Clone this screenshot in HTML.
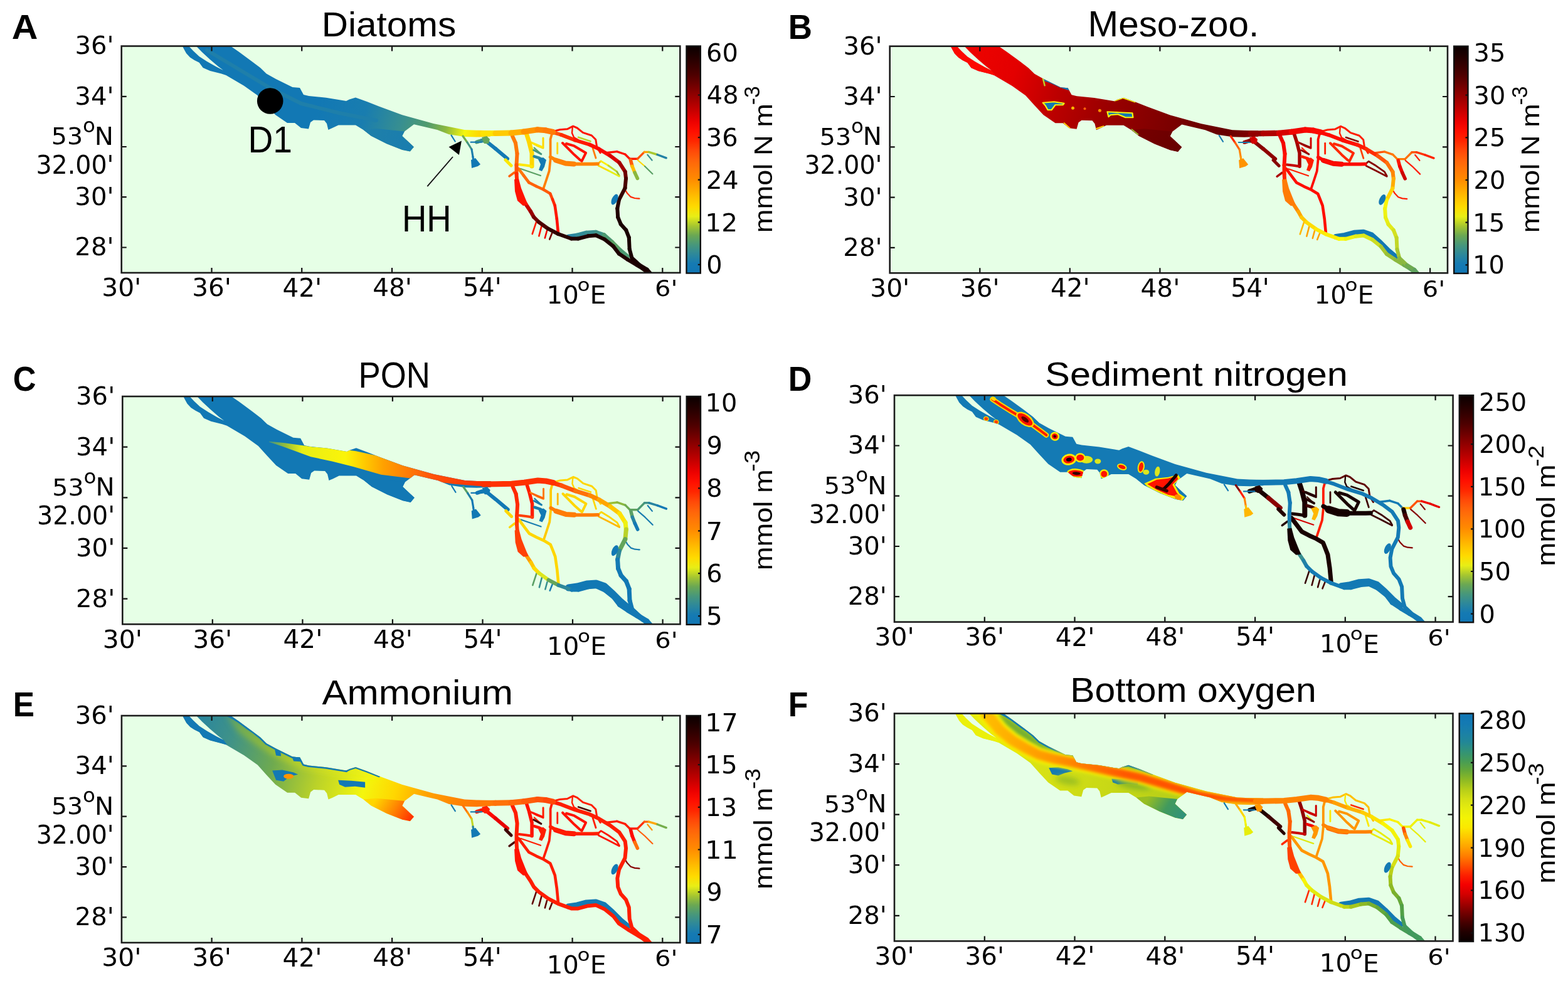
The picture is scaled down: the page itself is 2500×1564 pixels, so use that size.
<!DOCTYPE html>
<html><head><meta charset="utf-8"><title>Figure</title><style>html,body{margin:0;padding:0;background:#fff;}svg{display:block;}</style></head><body>
<svg xmlns="http://www.w3.org/2000/svg" width="2500" height="1564" viewBox="0 0 2500 1564">
<defs><filter id="blr" x="-20%" y="-20%" width="140%" height="140%"><feGaussianBlur stdDeviation="5"/></filter><filter id="blr2" x="-20%" y="-20%" width="140%" height="140%"><feGaussianBlur stdDeviation="2.5"/></filter></defs>
<rect width="2500" height="1564" fill="#fff"/>
<clipPath id="cpA"><rect x="193.7" y="73.5" width="890.6" height="361.4"/></clipPath>
<rect x="193.7" y="73.5" width="890.6" height="361.4" fill="#e6ffe6"/>
<g clip-path="url(#cpA)"><g transform="matrix(1.00000 0 0 1.00000 0.000 0.000)">
<clipPath id="ecA"><polygon points="291,73.5 367.6,73.5 380,82 401,97.4 415,108 424.8,117.6 440,126 466.4,139 478,140 484,151 492.4,152.9 520,155.7 552,161 557,158.5 566.9,155.4 585,162 604,169.6 641.3,183.3 691,197 740.6,206.9 760,207.8 782,208.2 782,217.5 760,218.5 740.6,218 715.8,214.3 697.2,206.9 660,198.2 645,209.4 641.3,216.8 660,234.2 653.8,241.6 641.3,239 616.5,229.2 591.7,216.8 579.3,206.9 567,199.4 539.6,199.4 530,204 523.4,206.9 521,197 517,192 500,191.4 495,195 492,205.6 480,204 470,196 458,196 439,183 425,168 410.5,152 389,136.7 360.5,120 353,117.6 335,113 323.6,108 317.6,99.8 310,96 303,91.4 297,85 292.6,77"/></clipPath>
<linearGradient id="gaA" gradientUnits="userSpaceOnUse" x1="300" y1="74" x2="782" y2="212"><stop offset="0.0000" stop-color="#1278b4"/><stop offset="0.4500" stop-color="#1278b4"/><stop offset="0.6000" stop-color="#197daf"/><stop offset="0.7200" stop-color="#388f90"/><stop offset="0.8000" stop-color="#509b6e"/><stop offset="0.8600" stop-color="#8bb83f"/><stop offset="0.9200" stop-color="#f4f60e"/><stop offset="0.9700" stop-color="#ffd600"/><stop offset="1.0000" stop-color="#ffc400"/></linearGradient>
<polygon points="291,73.5 367.6,73.5 380,82 401,97.4 415,108 424.8,117.6 440,126 466.4,139 478,140 484,151 492.4,152.9 520,155.7 552,161 557,158.5 566.9,155.4 585,162 604,169.6 641.3,183.3 691,197 740.6,206.9 760,207.8 782,208.2 782,217.5 760,218.5 740.6,218 715.8,214.3 697.2,206.9 660,198.2 645,209.4 641.3,216.8 660,234.2 653.8,241.6 641.3,239 616.5,229.2 591.7,216.8 579.3,206.9 567,199.4 539.6,199.4 530,204 523.4,206.9 521,197 517,192 500,191.4 495,195 492,205.6 480,204 470,196 458,196 439,183 425,168 410.5,152 389,136.7 360.5,120 353,117.6 335,113 323.6,108 317.6,99.8 310,96 303,91.4 297,85 292.6,77" fill="url(#gaA)"/>
<g clip-path="url(#ecA)">
<linearGradient id="glA" gradientUnits="userSpaceOnUse" x1="600" y1="205" x2="655" y2="240"><stop offset="0.0000" stop-color="#1e7faa"/><stop offset="1.0000" stop-color="#197daf"/></linearGradient>
<polygon points="600,205 645,209.4 641.3,216.8 660,234.2 653.8,241.6 641.3,239 616.5,229.2 591.7,216.8 579.3,206.9" fill="url(#glA)"/>
<polyline points="330,80 380,110 430,140 480,165 540,180 600,192" fill="none" stroke="#1e7faa" stroke-width="6" stroke-linejoin="round" stroke-linecap="round"/>
</g>
<polygon points="301,73.5 312.8,73.5 322,83 335,95 348,106 356,112 345,106.5 330,98 317.6,90 308,81" fill="#e6ffe6"/>
<g fill="none" stroke-linecap="round" stroke-linejoin="round">
<line x1="906" y1="377" x2="920" y2="375" stroke="#2784a1" stroke-width="6.5"/>
<line x1="920" y1="375" x2="935" y2="371" stroke="#318b97" stroke-width="6.5"/>
<line x1="935" y1="371" x2="950" y2="370" stroke="#388f90" stroke-width="6.5"/>
<line x1="950" y1="370" x2="963" y2="374.5" stroke="#3f9288" stroke-width="6.5"/>
<line x1="963" y1="374.5" x2="976" y2="386" stroke="#4d9a72" stroke-width="6.5"/>
<line x1="976" y1="386" x2="989" y2="399" stroke="#5aa064" stroke-width="6.5"/>
<line x1="989" y1="399" x2="1001" y2="409" stroke="#4d9a72" stroke-width="6.5"/>
<line x1="760" y1="226.5" x2="768" y2="224" stroke="#4d9a72" stroke-width="6"/>
<line x1="768" y1="224" x2="775" y2="225" stroke="#388f90" stroke-width="6"/>
<line x1="775" y1="225" x2="790" y2="237" stroke="#147ab4" stroke-width="6"/>
<line x1="790" y1="237" x2="809" y2="253" stroke="#1379b4" stroke-width="6"/>
<polyline points="719.5,215.6 725.7,225.5" stroke="#147ab4" stroke-width="2.2"/>
<line x1="738" y1="217" x2="745" y2="227" stroke="#75ae4c" stroke-width="3.2"/>
<line x1="745" y1="227" x2="752" y2="238" stroke="#429483" stroke-width="3.2"/>
<line x1="752" y1="238" x2="754" y2="250" stroke="#1c7eac" stroke-width="3.2"/>
<line x1="754" y1="250" x2="755" y2="258" stroke="#1278b4" stroke-width="3.2"/>
<polyline points="750.6,226.7 768,226.7" stroke="#147ab4" stroke-width="2.2"/>
<polyline points="851.7,235.6 861.8,244.8" stroke="#5aa064" stroke-width="2.2"/>
<polyline points="830,269 862,280" stroke="#5aa064" stroke-width="2.2"/>
<polyline points="806,255 815,264" stroke="#fde804" stroke-width="5"/>
<polyline points="812,281 820,275" stroke="#ff620a" stroke-width="3.5"/>
<polyline points="880,213 877.6,222 877.6,254 875.7,272.6 871,287 866.5,300.4" stroke="#ff7f04" stroke-width="3.8"/>
<polyline points="839.6,214 843.3,225.3 848,243.8 848,265" stroke="#ffd600" stroke-width="7"/>
<polyline points="848,265 838,263.5 827.6,262.3" stroke="#fde804" stroke-width="4"/>
<polyline points="845,226 856,232 866,236 866,220" stroke="#ffd600" stroke-width="3"/>
<polyline points="849,228 864.6,234.5" stroke="#fde804" stroke-width="3"/>
<polyline points="850.7,239.2 862.8,245.6" stroke="#45957f" stroke-width="3"/>
<polyline points="851.7,249.4 860,252 866,255" stroke="#2a869e" stroke-width="4.5"/>
<polyline points="922,218.8 941.5,225.3" stroke="#bad229" stroke-width="2.6"/>
<polyline points="884,209 892.4,206.8 904.4,205.8 913.7,201.2 920.2,204 929.4,211.4 943.3,216 949.8,222.5 951.7,234.5 957.2,243.8" stroke="#ff1200" stroke-width="3"/>
<polyline points="912.8,203 912,212 915,219 922,223" stroke="#ff1200" stroke-width="2.4"/>
<polyline points="897,228 906,237 915.5,246.6 924.8,254.9 927.6,256.8 934,243.8 915.5,232.7 903,229" stroke="#ff1200" stroke-width="4"/>
<polyline points="888.7,228 888.7,244.8" stroke="#ffd600" stroke-width="2.8"/>
<polyline points="945,236 950,252" stroke="#ff7b06" stroke-width="2.8"/>
<polyline points="886,255.5 901.7,260.5 915,261.4" stroke="#ff7b06" stroke-width="8"/>
<line x1="965.5" y1="243.8" x2="983.6" y2="241.6" stroke="#ff1200" stroke-width="3.4"/>
<line x1="983.6" y1="241.6" x2="996.7" y2="246" stroke="#ff1200" stroke-width="3.4"/>
<line x1="996.7" y1="246" x2="1004" y2="253.3" stroke="#ff1200" stroke-width="3.4"/>
<line x1="1004" y1="253.3" x2="1016.4" y2="253.3" stroke="#ff1800" stroke-width="3.4"/>
<line x1="1016.4" y1="253.3" x2="1027.3" y2="242.4" stroke="#ff530a" stroke-width="3.4"/>
<line x1="1027.3" y1="242.4" x2="1034.5" y2="242.4" stroke="#ffa500" stroke-width="3.4"/>
<line x1="1034.5" y1="242.4" x2="1048" y2="246.5" stroke="#a9c82f" stroke-width="3.4"/>
<line x1="1048" y1="246.5" x2="1062.2" y2="251.8" stroke="#2382a5" stroke-width="3.4"/>
<polyline points="1032.4,246.7 1039.6,255.5" stroke="#388f90" stroke-width="2.2"/>
<line x1="1017" y1="255.5" x2="1028" y2="265" stroke="#ffd600" stroke-width="2.2"/>
<line x1="1028" y1="265" x2="1040.4" y2="277.3" stroke="#5aa064" stroke-width="2.2"/>
<line x1="1005.5" y1="255.5" x2="1008" y2="265" stroke="#ff5c0a" stroke-width="5.5"/>
<line x1="1008" y1="265" x2="1012" y2="275" stroke="#ffbe00" stroke-width="5.5"/>
<line x1="1012" y1="275" x2="1016.4" y2="284.5" stroke="#8bb83f" stroke-width="5.5"/>
<polyline points="996.3,301.9 1000,308 1005.6,313.9 1012,316 1019.4,316.7" stroke="#ff2800" stroke-width="2.2"/>
<line x1="953" y1="261.3" x2="958.2" y2="256.9" stroke="#ffb700" stroke-width="2.8"/>
<line x1="958.2" y1="256.9" x2="970" y2="264" stroke="#fcee06" stroke-width="2.8"/>
<line x1="970" y1="264" x2="983.6" y2="273.6" stroke="#c2d727" stroke-width="2.8"/>
<line x1="983.6" y1="273.6" x2="987.3" y2="280.2" stroke="#99bf36" stroke-width="2.8"/>
<line x1="953" y1="262" x2="954.5" y2="264.2" stroke="#ffbe00" stroke-width="2.8"/>
<line x1="954.5" y1="264.2" x2="970" y2="272" stroke="#ffdc00" stroke-width="2.8"/>
<line x1="970" y1="272" x2="987.3" y2="281" stroke="#e8ee16" stroke-width="2.8"/>
<polyline points="877.6,250.4 886,255 894.3,258.7 905,261 917.4,261.5 930,261.5 945,261.5 953,261.3" stroke="#ff8303" stroke-width="5.5"/>
<line x1="826.7" y1="268.9" x2="835" y2="280" stroke="#ff7707" stroke-width="4.6"/>
<line x1="835" y1="280" x2="843.3" y2="291" stroke="#ff6b0a" stroke-width="4.6"/>
<line x1="843.3" y1="291" x2="855" y2="297" stroke="#ff620a" stroke-width="4.6"/>
<line x1="855" y1="297" x2="866.5" y2="302.2" stroke="#ff620a" stroke-width="4.6"/>
<line x1="866.5" y1="302.2" x2="877.2" y2="308.6" stroke="#ff5c0a" stroke-width="4.6"/>
<line x1="877.2" y1="308.6" x2="881" y2="318" stroke="#ff4808" stroke-width="4.6"/>
<line x1="881" y1="318" x2="884.7" y2="327.6" stroke="#ff2800" stroke-width="4.6"/>
<line x1="884.7" y1="327.6" x2="887.8" y2="348.8" stroke="#ff1800" stroke-width="4.6"/>
<line x1="887.8" y1="348.8" x2="890" y2="372" stroke="#ff0f00" stroke-width="4.6"/>
<polyline points="855,354 848.7,373" stroke="#ff1d00" stroke-width="2.6"/>
<polyline points="863.5,360.4 859.3,376.3" stroke="#ff1200" stroke-width="2.6"/>
<polyline points="872,367.8 868.8,379.5" stroke="#f10300" stroke-width="2.6"/>
<polyline points="880.4,371 876.2,381.6" stroke="#760000" stroke-width="2.6"/>
<line x1="817" y1="217" x2="822" y2="228" stroke="#ff7b06" stroke-width="6"/>
<line x1="822" y1="228" x2="824.5" y2="245" stroke="#ff7906" stroke-width="6"/>
<line x1="824.5" y1="245" x2="823.5" y2="263" stroke="#ff6e0a" stroke-width="6"/>
<line x1="823.5" y1="263" x2="823.5" y2="277" stroke="#ff530a" stroke-width="6"/>
<line x1="823.5" y1="277" x2="824.5" y2="292" stroke="#ff2c01" stroke-width="6"/>
<line x1="824.5" y1="292" x2="828" y2="310" stroke="#ff1800" stroke-width="6"/>
<line x1="828" y1="310" x2="838" y2="325" stroke="#f60600" stroke-width="6"/>
<line x1="838" y1="325" x2="846" y2="337" stroke="#c80000" stroke-width="6"/>
<line x1="846" y1="337" x2="851" y2="346" stroke="#990000" stroke-width="6"/>
<line x1="851" y1="346" x2="859" y2="354" stroke="#730000" stroke-width="6"/>
<line x1="859" y1="354" x2="874" y2="364.7" stroke="#4d0000" stroke-width="6"/>
<line x1="874" y1="364.7" x2="890" y2="373" stroke="#360000" stroke-width="6"/>
<line x1="890" y1="373" x2="911" y2="380.5" stroke="#280000" stroke-width="6"/>
<line x1="911" y1="380.5" x2="921.7" y2="380.5" stroke="#200000" stroke-width="6"/>
<line x1="921.7" y1="380.5" x2="937.6" y2="376.3" stroke="#1e0000" stroke-width="6"/>
<line x1="937.6" y1="376.3" x2="950.3" y2="375.2" stroke="#1e0000" stroke-width="6"/>
<line x1="950.3" y1="375.2" x2="964" y2="381.6" stroke="#1e0000" stroke-width="6"/>
<line x1="964" y1="381.6" x2="977.8" y2="392.6" stroke="#1e0000" stroke-width="6"/>
<line x1="977.8" y1="392.6" x2="987" y2="404.6" stroke="#1e0000" stroke-width="6"/>
<line x1="987" y1="404.6" x2="1001" y2="413.9" stroke="#1e0000" stroke-width="6"/>
<line x1="1001" y1="413.9" x2="1014.8" y2="422.2" stroke="#1e0000" stroke-width="6"/>
<line x1="1014.8" y1="422.2" x2="1024" y2="427.8" stroke="#1e0000" stroke-width="6"/>
<line x1="1024" y1="427.8" x2="1036" y2="437" stroke="#1e0000" stroke-width="6"/>
<line x1="880" y1="210.5" x2="895" y2="215" stroke="#ff530a" stroke-width="6"/>
<line x1="895" y1="215" x2="917" y2="223.5" stroke="#ff2c01" stroke-width="6"/>
<line x1="917" y1="223.5" x2="940" y2="230.5" stroke="#ff1800" stroke-width="6"/>
<line x1="940" y1="230.5" x2="954.5" y2="237.3" stroke="#ff0f00" stroke-width="6"/>
<line x1="954.5" y1="237.3" x2="972.7" y2="248.2" stroke="#f90700" stroke-width="6"/>
<line x1="972.7" y1="248.2" x2="987.3" y2="259.1" stroke="#db0000" stroke-width="6"/>
<line x1="987.3" y1="259.1" x2="996.7" y2="273.6" stroke="#a50000" stroke-width="6"/>
<line x1="996.7" y1="273.6" x2="998" y2="284.5" stroke="#6f0000" stroke-width="6"/>
<line x1="998" y1="284.5" x2="996.5" y2="300" stroke="#4a0000" stroke-width="6"/>
<line x1="996.5" y1="300" x2="987" y2="318.5" stroke="#360000" stroke-width="6"/>
<line x1="987" y1="318.5" x2="984.3" y2="332.4" stroke="#280000" stroke-width="6"/>
<line x1="984.3" y1="332.4" x2="985.2" y2="346.3" stroke="#200000" stroke-width="6"/>
<line x1="985.2" y1="346.3" x2="989.8" y2="357.4" stroke="#1c0000" stroke-width="6"/>
<line x1="989.8" y1="357.4" x2="998.1" y2="366.7" stroke="#190000" stroke-width="6"/>
<line x1="998.1" y1="366.7" x2="1002.8" y2="378.7" stroke="#190000" stroke-width="6"/>
<line x1="1002.8" y1="378.7" x2="1003.7" y2="397.2" stroke="#190000" stroke-width="6"/>
<line x1="1003.7" y1="397.2" x2="1007.4" y2="411.1" stroke="#190000" stroke-width="6"/>
<line x1="1007.4" y1="411.1" x2="1019.4" y2="422.2" stroke="#190000" stroke-width="6"/>
<line x1="1019.4" y1="422.2" x2="1031.5" y2="429.6" stroke="#190000" stroke-width="6"/>
<line x1="1031.5" y1="429.6" x2="1038" y2="437" stroke="#190000" stroke-width="6"/>
<line x1="770" y1="212.8" x2="790" y2="212.5" stroke="#fee202" stroke-width="9"/>
<line x1="790" y1="212.5" x2="815" y2="212" stroke="#ffca00" stroke-width="9"/>
<line x1="815" y1="212" x2="835" y2="210" stroke="#ffb000" stroke-width="9"/>
<line x1="835" y1="210" x2="857" y2="206.8" stroke="#ff9300" stroke-width="9"/>
<line x1="857" y1="206.8" x2="870" y2="207.8" stroke="#ff8303" stroke-width="9"/>
<line x1="870" y1="207.8" x2="882" y2="210.5" stroke="#ff7b06" stroke-width="9"/>
<polygon points="820,286 827,285 831,300 837,315 842,327 834,328 825,320 821,305" fill="#ff1200"/>
<polygon points="751,255 758,252 766,262 762,265 752,268" fill="#1278b4"/>
<polygon points="858,254 866,251 871,255 868,266 864,273 859,271 862,262" fill="#1379b4"/>
<polygon points="768,219 776,217 781,222 779,229 772,229" fill="#64a55a"/>
<ellipse cx="980" cy="318" rx="4.5" ry="9" transform="rotate(25 980 318)" fill="#1278b4"/>
</g>
<circle cx="430.7" cy="161" r="20.8" fill="#000"/>
<path d="M681.3 297.2L722 250" stroke="#111" stroke-width="1.8"/>
<polygon points="735.9,224.6 715.6,234.2 731.9,247.1" fill="#000"/>
</g></g>
<path d="M337.5 434.9V426.9M337.5 73.5V81.5M481.2 434.9V426.9M481.2 73.5V81.5M625.0 434.9V426.9M625.0 73.5V81.5M768.8 434.9V426.9M768.8 73.5V81.5M912.5 434.9V426.9M912.5 73.5V81.5M1056.3 434.9V426.9M1056.3 73.5V81.5M193.7 153.8H201.7M1084.3 153.8H1076.3M193.7 234.0H201.7M1084.3 234.0H1076.3M193.7 314.2H201.7M1084.3 314.2H1076.3M193.7 394.5H201.7M1084.3 394.5H1076.3" stroke="#111" stroke-width="2.2" fill="none"/>
<rect x="193.7" y="73.5" width="890.6" height="361.4" fill="none" stroke="#1c1c1c" stroke-width="2.6"/>
<text x="162.19" y="472.30" font-size="39.74" textLength="63.13" lengthAdjust="spacingAndGlyphs" font-family='"DejaVu Sans", sans-serif'>30&#39;</text>
<text x="306.24" y="472.30" font-size="39.74" textLength="62.57" lengthAdjust="spacingAndGlyphs" font-family='"DejaVu Sans", sans-serif'>36&#39;</text>
<text x="450.41" y="472.90" font-size="40.54" textLength="62.78" lengthAdjust="spacingAndGlyphs" font-family='"DejaVu Sans", sans-serif'>42&#39;</text>
<text x="594.18" y="472.30" font-size="39.74" textLength="62.78" lengthAdjust="spacingAndGlyphs" font-family='"DejaVu Sans", sans-serif'>48&#39;</text>
<text x="737.99" y="472.30" font-size="40.27" textLength="61.67" lengthAdjust="spacingAndGlyphs" font-family='"DejaVu Sans", sans-serif'>54&#39;</text>
<text x="871.63" y="483.72" font-size="38.54" textLength="51.13" lengthAdjust="spacingAndGlyphs" font-family='"DejaVu Sans", sans-serif'>10</text>
<text x="920.55" y="463.77" font-size="28.70" textLength="20.07" lengthAdjust="spacingAndGlyphs" font-family='"DejaVu Sans", sans-serif'>o</text>
<text x="940.64" y="484.00" font-size="39.04" textLength="25.95" lengthAdjust="spacingAndGlyphs" font-family='"DejaVu Sans", sans-serif'>E</text>
<text x="1044.02" y="472.36" font-size="35.76" textLength="36.45" lengthAdjust="spacingAndGlyphs" font-family='"DejaVu Sans", sans-serif'>6&#39;</text>
<text x="119.49" y="86.42" font-size="38.41" textLength="62.12" lengthAdjust="spacingAndGlyphs" font-family='"DejaVu Sans", sans-serif'>36&#39;</text>
<text x="119.38" y="166.67" font-size="38.41" textLength="62.23" lengthAdjust="spacingAndGlyphs" font-family='"DejaVu Sans", sans-serif'>34&#39;</text>
<text x="119.38" y="327.17" font-size="38.41" textLength="62.23" lengthAdjust="spacingAndGlyphs" font-family='"DejaVu Sans", sans-serif'>30&#39;</text>
<text x="119.38" y="407.42" font-size="38.41" textLength="62.23" lengthAdjust="spacingAndGlyphs" font-family='"DejaVu Sans", sans-serif'>28&#39;</text>
<text x="81.73" y="230.23" font-size="38.15" textLength="50.33" lengthAdjust="spacingAndGlyphs" font-family='"DejaVu Sans", sans-serif'>53</text>
<text x="131.91" y="211.22" font-size="32.00" textLength="19.94" lengthAdjust="spacingAndGlyphs" font-family='"DejaVu Sans", sans-serif'>o</text>
<text x="150.86" y="230.80" font-size="38.90" textLength="30.19" lengthAdjust="spacingAndGlyphs" font-family='"DejaVu Sans", sans-serif'>N</text>
<text x="57.44" y="276.80" font-size="40.00" textLength="124.03" lengthAdjust="spacingAndGlyphs" font-family='"DejaVu Sans", sans-serif'>32.00&#39;</text>
<linearGradient id="cbA" x1="0" y1="0" x2="0" y2="1"><stop offset="0.000" stop-color="#0a0000"/><stop offset="0.042" stop-color="#1f0000"/><stop offset="0.083" stop-color="#350000"/><stop offset="0.125" stop-color="#4d0000"/><stop offset="0.167" stop-color="#6c0000"/><stop offset="0.208" stop-color="#8c0000"/><stop offset="0.250" stop-color="#ac0000"/><stop offset="0.292" stop-color="#cd0000"/><stop offset="0.333" stop-color="#ed0100"/><stop offset="0.375" stop-color="#ff0f00"/><stop offset="0.417" stop-color="#ff2600"/><stop offset="0.458" stop-color="#ff4708"/><stop offset="0.500" stop-color="#ff620a"/><stop offset="0.542" stop-color="#ff7707"/><stop offset="0.583" stop-color="#ff8901"/><stop offset="0.625" stop-color="#ffa500"/><stop offset="0.667" stop-color="#ffc200"/><stop offset="0.708" stop-color="#ffdb00"/><stop offset="0.750" stop-color="#e8ee16"/><stop offset="0.792" stop-color="#a6c630"/><stop offset="0.833" stop-color="#6ba853"/><stop offset="0.875" stop-color="#47977b"/><stop offset="0.917" stop-color="#2d889b"/><stop offset="0.958" stop-color="#157ab3"/><stop offset="1.000" stop-color="#1076b4"/></linearGradient>
<rect x="1094.5" y="73.5" width="22.3" height="362.0" fill="url(#cbA)" stroke="#111" stroke-width="2.4"/>
<path d="M1116.8 151.5H1112.8M1116.8 219.1H1112.8M1116.8 286.7H1112.8M1116.8 354.3H1112.8M1116.8 421.9H1112.8" stroke="#111" stroke-width="2.2"/>
<text x="1126.01" y="97.82" font-size="38.54" textLength="50.76" lengthAdjust="spacingAndGlyphs" font-family='"DejaVu Sans", sans-serif'>60</text>
<text x="1126.81" y="165.42" font-size="38.54" textLength="50.76" lengthAdjust="spacingAndGlyphs" font-family='"DejaVu Sans", sans-serif'>48</text>
<text x="1125.81" y="233.02" font-size="38.54" textLength="50.76" lengthAdjust="spacingAndGlyphs" font-family='"DejaVu Sans", sans-serif'>36</text>
<text x="1125.75" y="301.20" font-size="39.32" textLength="51.79" lengthAdjust="spacingAndGlyphs" font-family='"DejaVu Sans", sans-serif'>24</text>
<text x="1124.32" y="368.80" font-size="39.32" textLength="51.79" lengthAdjust="spacingAndGlyphs" font-family='"DejaVu Sans", sans-serif'>12</text>
<text x="1126.21" y="435.82" font-size="38.54" textLength="25.38" lengthAdjust="spacingAndGlyphs" font-family='"DejaVu Sans", sans-serif'>0</text>
<text transform="translate(1230.60 371.14) rotate(-90)" x="0" y="0" font-size="41.00" textLength="206.02" lengthAdjust="spacingAndGlyphs" font-family='"Liberation Sans", Arial, sans-serif'>mmol N m</text><text transform="translate(1211.00 167.22) rotate(-90)" x="0" y="0" font-size="34.40" textLength="30.01" lengthAdjust="spacingAndGlyphs" font-family='"Liberation Sans", Arial, sans-serif'>-3</text>
<clipPath id="cpB"><rect x="1418.7" y="73.7" width="889.3" height="361.6"/></clipPath>
<rect x="1418.7" y="73.7" width="889.3" height="361.6" fill="#e6ffe6"/>
<g clip-path="url(#cpB)"><g transform="matrix(0.99854 0 0 1.00055 1225.283 0.159)">
<clipPath id="ecB"><polygon points="291,73.5 367.6,73.5 380,82 401,97.4 415,108 424.8,117.6 440,126 466.4,139 478,140 484,151 492.4,152.9 520,155.7 552,161 557,158.5 566.9,155.4 585,162 604,169.6 641.3,183.3 691,197 740.6,206.9 760,207.8 782,208.2 782,217.5 760,218.5 740.6,218 715.8,214.3 697.2,206.9 660,198.2 645,209.4 641.3,216.8 660,234.2 653.8,241.6 641.3,239 616.5,229.2 591.7,216.8 579.3,206.9 567,199.4 539.6,199.4 530,204 523.4,206.9 521,197 517,192 500,191.4 495,195 492,205.6 480,204 470,196 458,196 439,183 425,168 410.5,152 389,136.7 360.5,120 353,117.6 335,113 323.6,108 317.6,99.8 310,96 303,91.4 297,85 292.6,77"/></clipPath>
<linearGradient id="gaB" gradientUnits="userSpaceOnUse" x1="300" y1="74" x2="782" y2="212"><stop offset="0.0000" stop-color="#f10300"/><stop offset="0.2000" stop-color="#e30000"/><stop offset="0.3500" stop-color="#bc0000"/><stop offset="0.5000" stop-color="#9d0000"/><stop offset="0.6500" stop-color="#860000"/><stop offset="0.8000" stop-color="#6f0000"/><stop offset="0.9000" stop-color="#670000"/><stop offset="1.0000" stop-color="#860000"/></linearGradient>
<polygon points="291,73.5 367.6,73.5 380,82 401,97.4 415,108 424.8,117.6 440,126 466.4,139 478,140 484,151 492.4,152.9 520,155.7 552,161 557,158.5 566.9,155.4 585,162 604,169.6 641.3,183.3 691,197 740.6,206.9 760,207.8 782,208.2 782,217.5 760,218.5 740.6,218 715.8,214.3 697.2,206.9 660,198.2 645,209.4 641.3,216.8 660,234.2 653.8,241.6 641.3,239 616.5,229.2 591.7,216.8 579.3,206.9 567,199.4 539.6,199.4 530,204 523.4,206.9 521,197 517,192 500,191.4 495,195 492,205.6 480,204 470,196 458,196 439,183 425,168 410.5,152 389,136.7 360.5,120 353,117.6 335,113 323.6,108 317.6,99.8 310,96 303,91.4 297,85 292.6,77" fill="url(#gaB)"/>
<g clip-path="url(#ecB)">
<polygon points="288,73.5 301,73.5 308,81 317.6,90 330,98 345,106.5 356,112 362,120 353,117.6 335,113 323.6,108 317.6,99.8 310,96 303,91.4 297,85 292.6,77" fill="#fc0900"/>
<linearGradient id="glB" gradientUnits="userSpaceOnUse" x1="600" y1="205" x2="655" y2="240"><stop offset="0.0000" stop-color="#760000"/><stop offset="1.0000" stop-color="#670000"/></linearGradient>
<polygon points="600,205 645,209.4 641.3,216.8 660,234.2 653.8,241.6 641.3,239 616.5,229.2 591.7,216.8 579.3,206.9" fill="url(#glB)"/>
<polygon points="438,163.5 456,162 472,164.5 470,167 458,167 452,175 446,175 442,168" fill="#1379b4" stroke="#f4f60e" stroke-width="2.2" stroke-linejoin="round"/>
<polygon points="541,178 560,179 581,180 582,187 570,187 558,182 546,183 543,186" fill="#1379b4" stroke="#f4f60e" stroke-width="2.2" stroke-linejoin="round"/>
<polyline points="441,127 452,131 465,137 479,141.5" fill="none" stroke="#1379b4" stroke-width="4" stroke-linejoin="round" stroke-linecap="round"/>
<polyline points="438,124 441,136" fill="none" stroke="#bad229" stroke-width="2.5" stroke-linejoin="round" stroke-linecap="round"/>
<polyline points="553,160 566,155.5 585,162" fill="none" stroke="#f4f60e" stroke-width="2.5" stroke-linejoin="round" stroke-linecap="round"/>
<polyline points="472,196 482,205" fill="none" stroke="#ffd600" stroke-width="2" stroke-linejoin="round" stroke-linecap="round"/>
<polyline points="523,205 535,201" fill="none" stroke="#ffd600" stroke-width="2" stroke-linejoin="round" stroke-linecap="round"/>
<polyline points="580,206 590,214" fill="none" stroke="#99bf36" stroke-width="2" stroke-linejoin="round" stroke-linecap="round"/>
<ellipse cx="486" cy="172" rx="2.5" ry="2.5" transform="rotate(0 486 172)" fill="#ffb700"/>
<ellipse cx="505" cy="173" rx="2" ry="2" transform="rotate(0 505 173)" fill="#ff620a"/>
<ellipse cx="529" cy="176" rx="2.5" ry="2.5" transform="rotate(0 529 176)" fill="#ff9300"/>
</g>
<polygon points="301,73.5 312.8,73.5 322,83 335,95 348,106 356,112 345,106.5 330,98 317.6,90 308,81" fill="#e6ffe6"/>
<g fill="none" stroke-linecap="round" stroke-linejoin="round">
<polyline points="906,377 920,375 935,371 950,370 963,374.5 976,386 989,399 1001,409" stroke="#1278b4" stroke-width="9"/>
<line x1="760" y1="226.5" x2="768" y2="224" stroke="#a10000" stroke-width="6"/>
<line x1="768" y1="224" x2="775" y2="225" stroke="#8e0000" stroke-width="6"/>
<line x1="775" y1="225" x2="790" y2="237" stroke="#860000" stroke-width="6"/>
<line x1="790" y1="237" x2="809" y2="253" stroke="#8e0000" stroke-width="6"/>
<polyline points="719.5,215.6 725.7,225.5" stroke="#197daf" stroke-width="2.2"/>
<line x1="738" y1="217" x2="745" y2="227" stroke="#ff2500" stroke-width="3.2"/>
<line x1="745" y1="227" x2="752" y2="238" stroke="#ff620a" stroke-width="3.2"/>
<line x1="752" y1="238" x2="754" y2="250" stroke="#ff8602" stroke-width="3.2"/>
<line x1="754" y1="250" x2="755" y2="258" stroke="#ff9a00" stroke-width="3.2"/>
<polyline points="750.6,226.7 768,226.7" stroke="#197daf" stroke-width="2.2"/>
<polyline points="851.7,235.6 861.8,244.8" stroke="#ff1d00" stroke-width="2.2"/>
<polyline points="830,269 862,280" stroke="#ff1d00" stroke-width="2.2"/>
<polyline points="806,255 815,264" stroke="#860000" stroke-width="5"/>
<polyline points="812,281 820,275" stroke="#ac0000" stroke-width="3.5"/>
<polyline points="880,213 877.6,222 877.6,254 875.7,272.6 871,287 866.5,300.4" stroke="#fc0900" stroke-width="3.8"/>
<polyline points="839.6,214 843.3,225.3 848,243.8 848,265" stroke="#a50000" stroke-width="5.5"/>
<polyline points="848,265 838,263.5 827.6,262.3" stroke="#c40000" stroke-width="4"/>
<polyline points="845,226 856,232 866,236 866,220" stroke="#d30000" stroke-width="3"/>
<polyline points="849,228 864.6,234.5" stroke="#950000" stroke-width="3"/>
<polyline points="850.7,239.2 862.8,245.6" stroke="#950000" stroke-width="3"/>
<polyline points="851.7,249.4 860,252 866,255" stroke="#ff1d00" stroke-width="4.5"/>
<polyline points="922,218.8 941.5,225.3" stroke="#860000" stroke-width="2.6"/>
<polyline points="884,209 892.4,206.8 904.4,205.8 913.7,201.2 920.2,204 929.4,211.4 943.3,216 949.8,222.5 951.7,234.5 957.2,243.8" stroke="#ff1d00" stroke-width="3"/>
<polyline points="912.8,203 912,212 915,219 922,223" stroke="#ff1d00" stroke-width="2.4"/>
<polyline points="897,228 906,237 915.5,246.6 924.8,254.9 927.6,256.8 934,243.8 915.5,232.7 903,229" stroke="#ff2800" stroke-width="4"/>
<polyline points="888.7,228 888.7,244.8" stroke="#ff1d00" stroke-width="2.8"/>
<polyline points="945,236 950,252" stroke="#ff4006" stroke-width="2.8"/>
<polyline points="886,255.5 901.7,260.5 915,261.4" stroke="#f10300" stroke-width="8"/>
<line x1="965.5" y1="243.8" x2="983.6" y2="241.6" stroke="#ff530a" stroke-width="3.4"/>
<line x1="983.6" y1="241.6" x2="996.7" y2="246" stroke="#ff7009" stroke-width="3.4"/>
<line x1="996.7" y1="246" x2="1004" y2="253.3" stroke="#ff7b06" stroke-width="3.4"/>
<line x1="1004" y1="253.3" x2="1016.4" y2="253.3" stroke="#ff7b06" stroke-width="3.4"/>
<line x1="1016.4" y1="253.3" x2="1027.3" y2="242.4" stroke="#ff7009" stroke-width="3.4"/>
<line x1="1027.3" y1="242.4" x2="1034.5" y2="242.4" stroke="#ff530a" stroke-width="3.4"/>
<line x1="1034.5" y1="242.4" x2="1048" y2="246.5" stroke="#ff3403" stroke-width="3.4"/>
<line x1="1048" y1="246.5" x2="1062.2" y2="251.8" stroke="#ff2300" stroke-width="3.4"/>
<polyline points="1032.4,246.7 1039.6,255.5" stroke="#ff1d00" stroke-width="2.2"/>
<polyline points="1017,255.5 1028,265 1040.4,277.3" stroke="#ff1d00" stroke-width="2.2"/>
<line x1="1005.5" y1="255.5" x2="1008" y2="265" stroke="#ff1800" stroke-width="5.5"/>
<line x1="1008" y1="265" x2="1012" y2="275" stroke="#f10300" stroke-width="5.5"/>
<line x1="1012" y1="275" x2="1016.4" y2="284.5" stroke="#cc0000" stroke-width="5.5"/>
<polyline points="996.3,301.9 1000,308 1005.6,313.9 1012,316 1019.4,316.7" stroke="#ff1d00" stroke-width="2.2"/>
<polyline points="953,261.3 958.2,256.9 970,264 983.6,273.6 987.3,280.2" stroke="#860000" stroke-width="2.8"/>
<polyline points="953,262 954.5,264.2 970,272 987.3,281" stroke="#860000" stroke-width="2.8"/>
<polyline points="877.6,250.4 886,255 894.3,258.7 905,261 917.4,261.5 930,261.5 945,261.5 953,261.3" stroke="#fc0900" stroke-width="5.5"/>
<polyline points="826.7,268.9 835,280 843.3,291 855,297 866.5,302.2 877.2,308.6 881,318 884.7,327.6 887.8,348.8 890,372" stroke="#ff0d00" stroke-width="4.6"/>
<polyline points="855,354 848.7,373" stroke="#ffb700" stroke-width="2.6"/>
<polyline points="863.5,360.4 859.3,376.3" stroke="#ffa100" stroke-width="2.6"/>
<polyline points="872,367.8 868.8,379.5" stroke="#ffa100" stroke-width="2.6"/>
<polyline points="880.4,371 876.2,381.6" stroke="#ffa100" stroke-width="2.6"/>
<line x1="817" y1="217" x2="822" y2="228" stroke="#eb0000" stroke-width="6"/>
<line x1="822" y1="228" x2="824.5" y2="245" stroke="#f60600" stroke-width="6"/>
<line x1="824.5" y1="245" x2="823.5" y2="263" stroke="#ff0d00" stroke-width="6"/>
<line x1="823.5" y1="263" x2="823.5" y2="277" stroke="#ff1800" stroke-width="6"/>
<line x1="823.5" y1="277" x2="824.5" y2="292" stroke="#ff2300" stroke-width="6"/>
<line x1="824.5" y1="292" x2="828" y2="310" stroke="#ff4808" stroke-width="6"/>
<line x1="828" y1="310" x2="838" y2="325" stroke="#ff7009" stroke-width="6"/>
<line x1="838" y1="325" x2="846" y2="337" stroke="#ff8602" stroke-width="6"/>
<line x1="846" y1="337" x2="851" y2="346" stroke="#ffa500" stroke-width="6"/>
<line x1="851" y1="346" x2="859" y2="354" stroke="#ffc700" stroke-width="6"/>
<line x1="859" y1="354" x2="874" y2="364.7" stroke="#ffdc00" stroke-width="6"/>
<line x1="874" y1="364.7" x2="890" y2="373" stroke="#fde804" stroke-width="6"/>
<line x1="890" y1="373" x2="911" y2="380.5" stroke="#fcee06" stroke-width="6"/>
<line x1="911" y1="380.5" x2="921.7" y2="380.5" stroke="#fafa0a" stroke-width="6"/>
<line x1="921.7" y1="380.5" x2="937.6" y2="376.3" stroke="#eef212" stroke-width="6"/>
<line x1="937.6" y1="376.3" x2="950.3" y2="375.2" stroke="#e2ea1a" stroke-width="6"/>
<line x1="950.3" y1="375.2" x2="964" y2="381.6" stroke="#dce61e" stroke-width="6"/>
<line x1="964" y1="381.6" x2="977.8" y2="392.6" stroke="#cbdc24" stroke-width="6"/>
<line x1="977.8" y1="392.6" x2="987" y2="404.6" stroke="#a9c82f" stroke-width="6"/>
<line x1="987" y1="404.6" x2="1001" y2="413.9" stroke="#99bf36" stroke-width="6"/>
<line x1="1001" y1="413.9" x2="1014.8" y2="422.2" stroke="#8bb83f" stroke-width="6"/>
<line x1="1014.8" y1="422.2" x2="1024" y2="427.8" stroke="#6eaa50" stroke-width="6"/>
<line x1="1024" y1="427.8" x2="1036" y2="437" stroke="#5fa25f" stroke-width="6"/>
<line x1="880" y1="210.5" x2="895" y2="215" stroke="#fc0900" stroke-width="6"/>
<line x1="895" y1="215" x2="917" y2="223.5" stroke="#ff0a00" stroke-width="6"/>
<line x1="917" y1="223.5" x2="940" y2="230.5" stroke="#ff0f00" stroke-width="6"/>
<line x1="940" y1="230.5" x2="954.5" y2="237.3" stroke="#ff1800" stroke-width="6"/>
<line x1="954.5" y1="237.3" x2="972.7" y2="248.2" stroke="#ff2c01" stroke-width="6"/>
<line x1="972.7" y1="248.2" x2="987.3" y2="259.1" stroke="#ff530a" stroke-width="6"/>
<line x1="987.3" y1="259.1" x2="996.7" y2="273.6" stroke="#ff7009" stroke-width="6"/>
<line x1="996.7" y1="273.6" x2="998" y2="284.5" stroke="#ff8602" stroke-width="6"/>
<line x1="998" y1="284.5" x2="996.5" y2="300" stroke="#ffac00" stroke-width="6"/>
<line x1="996.5" y1="300" x2="987" y2="318.5" stroke="#ffd300" stroke-width="6"/>
<line x1="987" y1="318.5" x2="984.3" y2="332.4" stroke="#fbf408" stroke-width="6"/>
<line x1="984.3" y1="332.4" x2="985.2" y2="346.3" stroke="#eef212" stroke-width="6"/>
<line x1="985.2" y1="346.3" x2="989.8" y2="357.4" stroke="#e8ee16" stroke-width="6"/>
<line x1="989.8" y1="357.4" x2="998.1" y2="366.7" stroke="#e2ea1a" stroke-width="6"/>
<line x1="998.1" y1="366.7" x2="1002.8" y2="378.7" stroke="#d3e121" stroke-width="6"/>
<line x1="1002.8" y1="378.7" x2="1003.7" y2="397.2" stroke="#c2d727" stroke-width="6"/>
<line x1="1003.7" y1="397.2" x2="1007.4" y2="411.1" stroke="#a9c82f" stroke-width="6"/>
<line x1="1007.4" y1="411.1" x2="1019.4" y2="422.2" stroke="#8bb83f" stroke-width="6"/>
<line x1="1019.4" y1="422.2" x2="1031.5" y2="429.6" stroke="#6eaa50" stroke-width="6"/>
<line x1="1031.5" y1="429.6" x2="1038" y2="437" stroke="#5fa25f" stroke-width="6"/>
<line x1="770" y1="212.8" x2="790" y2="212.5" stroke="#910000" stroke-width="9"/>
<line x1="790" y1="212.5" x2="815" y2="212" stroke="#b00000" stroke-width="9"/>
<line x1="815" y1="212" x2="835" y2="210" stroke="#d70000" stroke-width="9"/>
<line x1="835" y1="210" x2="857" y2="206.8" stroke="#f10300" stroke-width="9"/>
<line x1="857" y1="206.8" x2="870" y2="207.8" stroke="#f90700" stroke-width="9"/>
<line x1="870" y1="207.8" x2="882" y2="210.5" stroke="#fc0900" stroke-width="9"/>
<polygon points="820,286 827,285 831,300 837,315 842,327 834,328 825,320 821,305" fill="#ff7b06"/>
<polygon points="751,255 758,252 766,262 762,265 752,268" fill="#ff9300"/>
<polygon points="858,254 866,251 871,255 868,266 864,273 859,271 862,262" fill="#ff1d00"/>
<polygon points="768,219 776,217 781,222 779,229 772,229" fill="#d30000"/>
<ellipse cx="980" cy="318" rx="4.5" ry="9" transform="rotate(25 980 318)" fill="#1379b4"/>
</g>
</g></g>
<path d="M1562.3 435.3V427.3M1562.3 73.7V81.7M1705.8 435.3V427.3M1705.8 73.7V81.7M1849.4 435.3V427.3M1849.4 73.7V81.7M1992.9 435.3V427.3M1992.9 73.7V81.7M2136.5 435.3V427.3M2136.5 73.7V81.7M2280.1 435.3V427.3M2280.1 73.7V81.7M1418.7 154.0H1426.7M2308.0 154.0H2300.0M1418.7 234.3H1426.7M2308.0 234.3H2300.0M1418.7 314.6H1426.7M2308.0 314.6H2300.0M1418.7 394.9H1426.7M2308.0 394.9H2300.0" stroke="#111" stroke-width="2.2" fill="none"/>
<rect x="1418.7" y="73.7" width="889.3" height="361.6" fill="none" stroke="#1c1c1c" stroke-width="2.6"/>
<text x="1387.19" y="472.70" font-size="39.74" textLength="63.13" lengthAdjust="spacingAndGlyphs" font-family='"DejaVu Sans", sans-serif'>30&#39;</text>
<text x="1531.03" y="472.70" font-size="39.74" textLength="62.57" lengthAdjust="spacingAndGlyphs" font-family='"DejaVu Sans", sans-serif'>36&#39;</text>
<text x="1674.99" y="473.30" font-size="40.54" textLength="62.78" lengthAdjust="spacingAndGlyphs" font-family='"DejaVu Sans", sans-serif'>42&#39;</text>
<text x="1818.55" y="472.70" font-size="39.74" textLength="62.78" lengthAdjust="spacingAndGlyphs" font-family='"DejaVu Sans", sans-serif'>48&#39;</text>
<text x="1962.15" y="472.70" font-size="40.27" textLength="61.67" lengthAdjust="spacingAndGlyphs" font-family='"DejaVu Sans", sans-serif'>54&#39;</text>
<text x="2095.58" y="484.12" font-size="38.54" textLength="51.13" lengthAdjust="spacingAndGlyphs" font-family='"DejaVu Sans", sans-serif'>10</text>
<text x="2144.50" y="464.17" font-size="28.70" textLength="20.07" lengthAdjust="spacingAndGlyphs" font-family='"DejaVu Sans", sans-serif'>o</text>
<text x="2164.59" y="484.40" font-size="39.04" textLength="25.95" lengthAdjust="spacingAndGlyphs" font-family='"DejaVu Sans", sans-serif'>E</text>
<text x="2267.76" y="472.76" font-size="35.76" textLength="36.45" lengthAdjust="spacingAndGlyphs" font-family='"DejaVu Sans", sans-serif'>6&#39;</text>
<text x="1344.49" y="86.62" font-size="38.41" textLength="62.12" lengthAdjust="spacingAndGlyphs" font-family='"DejaVu Sans", sans-serif'>36&#39;</text>
<text x="1344.38" y="166.92" font-size="38.41" textLength="62.23" lengthAdjust="spacingAndGlyphs" font-family='"DejaVu Sans", sans-serif'>34&#39;</text>
<text x="1344.38" y="327.51" font-size="38.41" textLength="62.23" lengthAdjust="spacingAndGlyphs" font-family='"DejaVu Sans", sans-serif'>30&#39;</text>
<text x="1344.38" y="407.80" font-size="38.41" textLength="62.23" lengthAdjust="spacingAndGlyphs" font-family='"DejaVu Sans", sans-serif'>28&#39;</text>
<text x="1306.73" y="230.52" font-size="38.15" textLength="50.33" lengthAdjust="spacingAndGlyphs" font-family='"DejaVu Sans", sans-serif'>53</text>
<text x="1356.91" y="211.51" font-size="32.00" textLength="19.94" lengthAdjust="spacingAndGlyphs" font-family='"DejaVu Sans", sans-serif'>o</text>
<text x="1375.86" y="231.09" font-size="38.90" textLength="30.19" lengthAdjust="spacingAndGlyphs" font-family='"DejaVu Sans", sans-serif'>N</text>
<text x="1282.44" y="277.09" font-size="40.00" textLength="124.03" lengthAdjust="spacingAndGlyphs" font-family='"DejaVu Sans", sans-serif'>32.00&#39;</text>
<linearGradient id="cbB" x1="0" y1="0" x2="0" y2="1"><stop offset="0.000" stop-color="#0a0000"/><stop offset="0.042" stop-color="#1f0000"/><stop offset="0.083" stop-color="#350000"/><stop offset="0.125" stop-color="#4d0000"/><stop offset="0.167" stop-color="#6c0000"/><stop offset="0.208" stop-color="#8c0000"/><stop offset="0.250" stop-color="#ac0000"/><stop offset="0.292" stop-color="#cd0000"/><stop offset="0.333" stop-color="#ed0100"/><stop offset="0.375" stop-color="#ff0f00"/><stop offset="0.417" stop-color="#ff2600"/><stop offset="0.458" stop-color="#ff4708"/><stop offset="0.500" stop-color="#ff620a"/><stop offset="0.542" stop-color="#ff7707"/><stop offset="0.583" stop-color="#ff8901"/><stop offset="0.625" stop-color="#ffa500"/><stop offset="0.667" stop-color="#ffc200"/><stop offset="0.708" stop-color="#ffdb00"/><stop offset="0.750" stop-color="#e8ee16"/><stop offset="0.792" stop-color="#a6c630"/><stop offset="0.833" stop-color="#6ba853"/><stop offset="0.875" stop-color="#47977b"/><stop offset="0.917" stop-color="#2d889b"/><stop offset="0.958" stop-color="#157ab3"/><stop offset="1.000" stop-color="#1076b4"/></linearGradient>
<rect x="2318.2" y="73.7" width="22.3" height="362.2" fill="url(#cbB)" stroke="#111" stroke-width="2.4"/>
<path d="M2340.5 151.7H2336.5M2340.5 219.4H2336.5M2340.5 287.0H2336.5M2340.5 354.7H2336.5M2340.5 422.3H2336.5" stroke="#111" stroke-width="2.2"/>
<text x="2349.51" y="98.03" font-size="38.54" textLength="50.76" lengthAdjust="spacingAndGlyphs" font-family='"DejaVu Sans", sans-serif'>35</text>
<text x="2349.51" y="165.67" font-size="38.54" textLength="50.76" lengthAdjust="spacingAndGlyphs" font-family='"DejaVu Sans", sans-serif'>30</text>
<text x="2349.51" y="233.30" font-size="38.54" textLength="50.76" lengthAdjust="spacingAndGlyphs" font-family='"DejaVu Sans", sans-serif'>25</text>
<text x="2349.51" y="300.94" font-size="38.54" textLength="50.76" lengthAdjust="spacingAndGlyphs" font-family='"DejaVu Sans", sans-serif'>20</text>
<text x="2348.05" y="368.57" font-size="39.06" textLength="51.44" lengthAdjust="spacingAndGlyphs" font-family='"DejaVu Sans", sans-serif'>15</text>
<text x="2348.11" y="436.21" font-size="38.54" textLength="50.76" lengthAdjust="spacingAndGlyphs" font-family='"DejaVu Sans", sans-serif'>10</text>
<text transform="translate(2454.30 371.34) rotate(-90)" x="0" y="0" font-size="41.00" textLength="206.02" lengthAdjust="spacingAndGlyphs" font-family='"Liberation Sans", Arial, sans-serif'>mmol N m</text><text transform="translate(2434.70 167.42) rotate(-90)" x="0" y="0" font-size="34.40" textLength="30.01" lengthAdjust="spacingAndGlyphs" font-family='"Liberation Sans", Arial, sans-serif'>-3</text>
<clipPath id="cpC"><rect x="195.3" y="632.0" width="889.2" height="363.2"/></clipPath>
<rect x="195.3" y="632.0" width="889.2" height="363.2" fill="#e6ffe6"/>
<g clip-path="url(#cpC)"><g transform="matrix(0.99843 0 0 1.00498 1.904 558.134)">
<clipPath id="ecC"><polygon points="291,73.5 367.6,73.5 380,82 401,97.4 415,108 424.8,117.6 440,126 466.4,139 478,140 484,151 492.4,152.9 520,155.7 552,161 557,158.5 566.9,155.4 585,162 604,169.6 641.3,183.3 691,197 740.6,206.9 760,207.8 782,208.2 782,217.5 760,218.5 740.6,218 715.8,214.3 697.2,206.9 660,198.2 645,209.4 641.3,216.8 660,234.2 653.8,241.6 641.3,239 616.5,229.2 591.7,216.8 579.3,206.9 567,199.4 539.6,199.4 530,204 523.4,206.9 521,197 517,192 500,191.4 495,195 492,205.6 480,204 470,196 458,196 439,183 425,168 410.5,152 389,136.7 360.5,120 353,117.6 335,113 323.6,108 317.6,99.8 310,96 303,91.4 297,85 292.6,77"/></clipPath>
<linearGradient id="gaC" gradientUnits="userSpaceOnUse" x1="300" y1="74" x2="782" y2="212"><stop offset="0.0000" stop-color="#1278b4"/><stop offset="1.0000" stop-color="#1278b4"/></linearGradient>
<polygon points="291,73.5 367.6,73.5 380,82 401,97.4 415,108 424.8,117.6 440,126 466.4,139 478,140 484,151 492.4,152.9 520,155.7 552,161 557,158.5 566.9,155.4 585,162 604,169.6 641.3,183.3 691,197 740.6,206.9 760,207.8 782,208.2 782,217.5 760,218.5 740.6,218 715.8,214.3 697.2,206.9 660,198.2 645,209.4 641.3,216.8 660,234.2 653.8,241.6 641.3,239 616.5,229.2 591.7,216.8 579.3,206.9 567,199.4 539.6,199.4 530,204 523.4,206.9 521,197 517,192 500,191.4 495,195 492,205.6 480,204 470,196 458,196 439,183 425,168 410.5,152 389,136.7 360.5,120 353,117.6 335,113 323.6,108 317.6,99.8 310,96 303,91.4 297,85 292.6,77" fill="url(#gaC)"/>
<g clip-path="url(#ecC)">
<polygon points="600,205 645,209.4 641.3,216.8 660,234.2 653.8,241.6 641.3,239 616.5,229.2 591.7,216.8 579.3,206.9" fill="#1278b4"/>
<linearGradient id="gcb" gradientUnits="userSpaceOnUse" x1="428" y1="0" x2="790" y2="0"><stop offset="0.0000" stop-color="#45957f"/><stop offset="0.0750" stop-color="#99bf36"/><stop offset="0.1440" stop-color="#e8ee16"/><stop offset="0.3370" stop-color="#fbf408"/><stop offset="0.4200" stop-color="#ffca00"/><stop offset="0.5030" stop-color="#ffa100"/><stop offset="0.6130" stop-color="#ff7b06"/><stop offset="0.7240" stop-color="#ff500a"/><stop offset="1.0000" stop-color="#ff2800"/></linearGradient>
<polygon points="427.9,146 449.3,152.9 494.4,169.3 528.3,176.4 561.3,184.7 606.8,197.6 653.2,203.3 722.1,212.4 789.5,218 790.5,208 723.9,199.6 656.8,184.7 613.2,170.4 566.7,160.3 531.7,155.6 497.6,153.7 450.7,147.1 428.1,145" fill="url(#gcb)"/>
</g>
<polygon points="301,73.5 312.8,73.5 322,83 335,95 348,106 356,112 345,106.5 330,98 317.6,90 308,81" fill="#e6ffe6"/>
<g fill="none" stroke-linecap="round" stroke-linejoin="round">
<polyline points="906,377 920,375 935,371 950,370 963,374.5 976,386 989,399 1001,409" stroke="#1278b4" stroke-width="11"/>
<polyline points="760,226.5 768,224 775,225 790,237 809,253" stroke="#1278b4" stroke-width="6"/>
<polyline points="719.5,215.6 725.7,225.5" stroke="#1379b4" stroke-width="2.2"/>
<line x1="738" y1="217" x2="745" y2="227" stroke="#5aa064" stroke-width="3.2"/>
<line x1="745" y1="227" x2="752" y2="238" stroke="#2081a8" stroke-width="3.2"/>
<line x1="752" y1="238" x2="754" y2="250" stroke="#1278b4" stroke-width="3.2"/>
<line x1="754" y1="250" x2="755" y2="258" stroke="#1278b4" stroke-width="3.2"/>
<polyline points="750.6,226.7 768,226.7" stroke="#1278b4" stroke-width="2.2"/>
<polyline points="851.7,235.6 861.8,244.8" stroke="#197daf" stroke-width="2.2"/>
<polyline points="830,269 862,280" stroke="#197daf" stroke-width="2.2"/>
<polyline points="806,255 815,264" stroke="#ffd600" stroke-width="5"/>
<polyline points="812,281 820,275" stroke="#ffd600" stroke-width="3.5"/>
<polyline points="880,213 877.6,222 877.6,254 875.7,272.6 871,287 866.5,300.4" stroke="#ffca00" stroke-width="3.8"/>
<polyline points="839.6,214 843.3,225.3 848,243.8 848,265" stroke="#ff1d00" stroke-width="5.5"/>
<polyline points="848,265 838,263.5 827.6,262.3" stroke="#ff4006" stroke-width="4"/>
<polyline points="845,226 856,232 866,236 866,220" stroke="#ff7b06" stroke-width="3"/>
<polyline points="849,228 864.6,234.5" stroke="#ff620a" stroke-width="3"/>
<polyline points="850.7,239.2 862.8,245.6" stroke="#197daf" stroke-width="3"/>
<polyline points="851.7,249.4 860,252 866,255" stroke="#197daf" stroke-width="4.5"/>
<polyline points="922,218.8 941.5,225.3" stroke="#ffd600" stroke-width="2.6"/>
<polyline points="884,209 892.4,206.8 904.4,205.8 913.7,201.2 920.2,204 929.4,211.4 943.3,216 949.8,222.5 951.7,234.5 957.2,243.8" stroke="#ffd600" stroke-width="3"/>
<polyline points="912.8,203 912,212 915,219 922,223" stroke="#ffd600" stroke-width="2.4"/>
<polyline points="897,228 906,237 915.5,246.6 924.8,254.9 927.6,256.8 934,243.8 915.5,232.7 903,229" stroke="#ffd600" stroke-width="4"/>
<polyline points="888.7,228 888.7,244.8" stroke="#ffb700" stroke-width="2.8"/>
<polyline points="945,236 950,252" stroke="#ffd600" stroke-width="2.8"/>
<polyline points="886,255.5 901.7,260.5 915,261.4" stroke="#ff7b06" stroke-width="8"/>
<line x1="965.5" y1="243.8" x2="983.6" y2="241.6" stroke="#99bf36" stroke-width="3.4"/>
<line x1="983.6" y1="241.6" x2="996.7" y2="246" stroke="#8bb83f" stroke-width="3.4"/>
<line x1="996.7" y1="246" x2="1004" y2="253.3" stroke="#6eaa50" stroke-width="3.4"/>
<line x1="1004" y1="253.3" x2="1016.4" y2="253.3" stroke="#5fa25f" stroke-width="3.4"/>
<line x1="1016.4" y1="253.3" x2="1027.3" y2="242.4" stroke="#4d9a72" stroke-width="3.4"/>
<line x1="1027.3" y1="242.4" x2="1034.5" y2="242.4" stroke="#3f9288" stroke-width="3.4"/>
<line x1="1034.5" y1="242.4" x2="1048" y2="246.5" stroke="#2784a1" stroke-width="3.4"/>
<line x1="1048" y1="246.5" x2="1062.2" y2="251.8" stroke="#147ab4" stroke-width="3.4"/>
<polyline points="1032.4,246.7 1039.6,255.5" stroke="#197daf" stroke-width="2.2"/>
<polyline points="1017,255.5 1028,265 1040.4,277.3" stroke="#197daf" stroke-width="2.2"/>
<line x1="1005.5" y1="255.5" x2="1008" y2="265" stroke="#5aa064" stroke-width="5.5"/>
<line x1="1008" y1="265" x2="1012" y2="275" stroke="#2784a1" stroke-width="5.5"/>
<line x1="1012" y1="275" x2="1016.4" y2="284.5" stroke="#147ab4" stroke-width="5.5"/>
<polyline points="996.3,301.9 1000,308 1005.6,313.9 1012,316 1019.4,316.7" stroke="#197daf" stroke-width="2.2"/>
<polyline points="953,261.3 958.2,256.9 970,264 983.6,273.6 987.3,280.2" stroke="#ffd600" stroke-width="2.8"/>
<polyline points="953,262 954.5,264.2 970,272 987.3,281" stroke="#ffb700" stroke-width="2.8"/>
<polyline points="877.6,250.4 886,255 894.3,258.7 905,261 917.4,261.5 930,261.5 945,261.5 953,261.3" stroke="#ff7b06" stroke-width="5.5"/>
<polyline points="826.7,268.9 835,280 843.3,291 855,297 866.5,302.2 877.2,308.6 881,318 884.7,327.6 887.8,348.8 890,372" stroke="#ffd600" stroke-width="4.6"/>
<polyline points="855,354 848.7,373" stroke="#5aa064" stroke-width="2.6"/>
<polyline points="863.5,360.4 859.3,376.3" stroke="#388f90" stroke-width="2.6"/>
<polyline points="872,367.8 868.8,379.5" stroke="#388f90" stroke-width="2.6"/>
<polyline points="880.4,371 876.2,381.6" stroke="#197daf" stroke-width="2.6"/>
<line x1="817" y1="217" x2="822" y2="228" stroke="#ff2800" stroke-width="6"/>
<line x1="822" y1="228" x2="824.5" y2="245" stroke="#ff2800" stroke-width="6"/>
<line x1="824.5" y1="245" x2="823.5" y2="263" stroke="#ff2c01" stroke-width="6"/>
<line x1="823.5" y1="263" x2="823.5" y2="277" stroke="#ff3403" stroke-width="6"/>
<line x1="823.5" y1="277" x2="824.5" y2="292" stroke="#ff3c05" stroke-width="6"/>
<line x1="824.5" y1="292" x2="828" y2="310" stroke="#ff530a" stroke-width="6"/>
<line x1="828" y1="310" x2="838" y2="325" stroke="#ff7707" stroke-width="6"/>
<line x1="838" y1="325" x2="846" y2="337" stroke="#ff9e00" stroke-width="6"/>
<line x1="846" y1="337" x2="851" y2="346" stroke="#ffc700" stroke-width="6"/>
<line x1="851" y1="346" x2="859" y2="354" stroke="#ffdc00" stroke-width="6"/>
<line x1="859" y1="354" x2="874" y2="364.7" stroke="#dce61e" stroke-width="6"/>
<line x1="874" y1="364.7" x2="890" y2="373" stroke="#64a55a" stroke-width="6"/>
<line x1="890" y1="373" x2="911" y2="380.5" stroke="#2e889a" stroke-width="6"/>
<line x1="911" y1="380.5" x2="921.7" y2="380.5" stroke="#147ab4" stroke-width="6"/>
<line x1="921.7" y1="380.5" x2="937.6" y2="376.3" stroke="#1278b4" stroke-width="6"/>
<line x1="937.6" y1="376.3" x2="950.3" y2="375.2" stroke="#1278b4" stroke-width="6"/>
<line x1="950.3" y1="375.2" x2="964" y2="381.6" stroke="#1278b4" stroke-width="6"/>
<line x1="964" y1="381.6" x2="977.8" y2="392.6" stroke="#1278b4" stroke-width="6"/>
<line x1="977.8" y1="392.6" x2="987" y2="404.6" stroke="#1278b4" stroke-width="6"/>
<line x1="987" y1="404.6" x2="1001" y2="413.9" stroke="#1278b4" stroke-width="6"/>
<line x1="1001" y1="413.9" x2="1014.8" y2="422.2" stroke="#1278b4" stroke-width="6"/>
<line x1="1014.8" y1="422.2" x2="1024" y2="427.8" stroke="#1278b4" stroke-width="6"/>
<line x1="1024" y1="427.8" x2="1036" y2="437" stroke="#1278b4" stroke-width="6"/>
<line x1="880" y1="210.5" x2="895" y2="215" stroke="#ff3804" stroke-width="7"/>
<line x1="895" y1="215" x2="917" y2="223.5" stroke="#ff530a" stroke-width="7"/>
<line x1="917" y1="223.5" x2="940" y2="230.5" stroke="#ff7009" stroke-width="7"/>
<line x1="940" y1="230.5" x2="954.5" y2="237.3" stroke="#ff8602" stroke-width="7"/>
<line x1="954.5" y1="237.3" x2="972.7" y2="248.2" stroke="#ffa500" stroke-width="7"/>
<line x1="972.7" y1="248.2" x2="987.3" y2="259.1" stroke="#ffc700" stroke-width="7"/>
<line x1="987.3" y1="259.1" x2="996.7" y2="273.6" stroke="#fee202" stroke-width="7"/>
<line x1="996.7" y1="273.6" x2="998" y2="284.5" stroke="#eef212" stroke-width="7"/>
<line x1="998" y1="284.5" x2="996.5" y2="300" stroke="#bad229" stroke-width="7"/>
<line x1="996.5" y1="300" x2="987" y2="318.5" stroke="#64a55a" stroke-width="7"/>
<line x1="987" y1="318.5" x2="984.3" y2="332.4" stroke="#2e889a" stroke-width="7"/>
<line x1="984.3" y1="332.4" x2="985.2" y2="346.3" stroke="#147ab4" stroke-width="7"/>
<line x1="985.2" y1="346.3" x2="989.8" y2="357.4" stroke="#1278b4" stroke-width="7"/>
<line x1="989.8" y1="357.4" x2="998.1" y2="366.7" stroke="#1278b4" stroke-width="7"/>
<line x1="998.1" y1="366.7" x2="1002.8" y2="378.7" stroke="#1278b4" stroke-width="7"/>
<line x1="1002.8" y1="378.7" x2="1003.7" y2="397.2" stroke="#1278b4" stroke-width="7"/>
<line x1="1003.7" y1="397.2" x2="1007.4" y2="411.1" stroke="#1278b4" stroke-width="7"/>
<line x1="1007.4" y1="411.1" x2="1019.4" y2="422.2" stroke="#1278b4" stroke-width="7"/>
<line x1="1019.4" y1="422.2" x2="1031.5" y2="429.6" stroke="#1278b4" stroke-width="7"/>
<line x1="1031.5" y1="429.6" x2="1038" y2="437" stroke="#1278b4" stroke-width="7"/>
<polyline points="770,212.8 790,212.5 815,212 835,210 857,206.8 870,207.8 882,210.5" stroke="#ff3002" stroke-width="9"/>
<polygon points="820,286 827,285 831,300 837,315 842,327 834,328 825,320 821,305" fill="#ff4006"/>
<polygon points="751,255 758,252 766,262 762,265 752,268" fill="#1278b4"/>
<polygon points="858,254 866,251 871,255 868,266 864,273 859,271 862,262" fill="#1379b4"/>
<polygon points="768,219 776,217 781,222 779,229 772,229" fill="#1379b4"/>
<ellipse cx="980" cy="318" rx="4.5" ry="9" transform="rotate(25 980 318)" fill="#1278b4"/>
</g>
</g></g>
<path d="M338.8 995.2V987.2M338.8 632.0V640.0M482.4 995.2V987.2M482.4 632.0V640.0M625.9 995.2V987.2M625.9 632.0V640.0M769.5 995.2V987.2M769.5 632.0V640.0M913.0 995.2V987.2M913.0 632.0V640.0M1056.6 995.2V987.2M1056.6 632.0V640.0M195.3 712.6H203.3M1084.5 712.6H1076.5M195.3 793.3H203.3M1084.5 793.3H1076.5M195.3 873.9H203.3M1084.5 873.9H1076.5M195.3 954.6H203.3M1084.5 954.6H1076.5" stroke="#111" stroke-width="2.2" fill="none"/>
<rect x="195.3" y="632.0" width="889.2" height="363.2" fill="none" stroke="#1c1c1c" stroke-width="2.6"/>
<text x="163.79" y="1032.60" font-size="39.74" textLength="63.13" lengthAdjust="spacingAndGlyphs" font-family='"DejaVu Sans", sans-serif'>30&#39;</text>
<text x="307.61" y="1032.60" font-size="39.74" textLength="62.57" lengthAdjust="spacingAndGlyphs" font-family='"DejaVu Sans", sans-serif'>36&#39;</text>
<text x="451.56" y="1033.20" font-size="40.54" textLength="62.78" lengthAdjust="spacingAndGlyphs" font-family='"DejaVu Sans", sans-serif'>42&#39;</text>
<text x="595.10" y="1032.60" font-size="39.74" textLength="62.78" lengthAdjust="spacingAndGlyphs" font-family='"DejaVu Sans", sans-serif'>48&#39;</text>
<text x="738.69" y="1032.60" font-size="40.27" textLength="61.67" lengthAdjust="spacingAndGlyphs" font-family='"DejaVu Sans", sans-serif'>54&#39;</text>
<text x="872.10" y="1044.02" font-size="38.54" textLength="51.13" lengthAdjust="spacingAndGlyphs" font-family='"DejaVu Sans", sans-serif'>10</text>
<text x="921.02" y="1024.07" font-size="28.70" textLength="20.07" lengthAdjust="spacingAndGlyphs" font-family='"DejaVu Sans", sans-serif'>o</text>
<text x="941.11" y="1044.30" font-size="39.04" textLength="25.95" lengthAdjust="spacingAndGlyphs" font-family='"DejaVu Sans", sans-serif'>E</text>
<text x="1044.26" y="1032.66" font-size="35.76" textLength="36.45" lengthAdjust="spacingAndGlyphs" font-family='"DejaVu Sans", sans-serif'>6&#39;</text>
<text x="121.09" y="644.92" font-size="38.41" textLength="62.12" lengthAdjust="spacingAndGlyphs" font-family='"DejaVu Sans", sans-serif'>36&#39;</text>
<text x="120.98" y="725.57" font-size="38.41" textLength="62.23" lengthAdjust="spacingAndGlyphs" font-family='"DejaVu Sans", sans-serif'>34&#39;</text>
<text x="120.98" y="886.87" font-size="38.41" textLength="62.23" lengthAdjust="spacingAndGlyphs" font-family='"DejaVu Sans", sans-serif'>30&#39;</text>
<text x="120.98" y="967.52" font-size="38.41" textLength="62.23" lengthAdjust="spacingAndGlyphs" font-family='"DejaVu Sans", sans-serif'>28&#39;</text>
<text x="83.33" y="789.53" font-size="38.15" textLength="50.33" lengthAdjust="spacingAndGlyphs" font-family='"DejaVu Sans", sans-serif'>53</text>
<text x="133.51" y="770.52" font-size="32.00" textLength="19.94" lengthAdjust="spacingAndGlyphs" font-family='"DejaVu Sans", sans-serif'>o</text>
<text x="152.46" y="790.10" font-size="38.90" textLength="30.19" lengthAdjust="spacingAndGlyphs" font-family='"DejaVu Sans", sans-serif'>N</text>
<text x="59.04" y="836.10" font-size="40.00" textLength="124.03" lengthAdjust="spacingAndGlyphs" font-family='"DejaVu Sans", sans-serif'>32.00&#39;</text>
<linearGradient id="cbC" x1="0" y1="0" x2="0" y2="1"><stop offset="0.000" stop-color="#0a0000"/><stop offset="0.042" stop-color="#1f0000"/><stop offset="0.083" stop-color="#350000"/><stop offset="0.125" stop-color="#4d0000"/><stop offset="0.167" stop-color="#6c0000"/><stop offset="0.208" stop-color="#8c0000"/><stop offset="0.250" stop-color="#ac0000"/><stop offset="0.292" stop-color="#cd0000"/><stop offset="0.333" stop-color="#ed0100"/><stop offset="0.375" stop-color="#ff0f00"/><stop offset="0.417" stop-color="#ff2600"/><stop offset="0.458" stop-color="#ff4708"/><stop offset="0.500" stop-color="#ff620a"/><stop offset="0.542" stop-color="#ff7707"/><stop offset="0.583" stop-color="#ff8901"/><stop offset="0.625" stop-color="#ffa500"/><stop offset="0.667" stop-color="#ffc200"/><stop offset="0.708" stop-color="#ffdb00"/><stop offset="0.750" stop-color="#e8ee16"/><stop offset="0.792" stop-color="#a6c630"/><stop offset="0.833" stop-color="#6ba853"/><stop offset="0.875" stop-color="#47977b"/><stop offset="0.917" stop-color="#2d889b"/><stop offset="0.958" stop-color="#157ab3"/><stop offset="1.000" stop-color="#1076b4"/></linearGradient>
<rect x="1094.7" y="632.0" width="22.3" height="363.8" fill="url(#cbC)" stroke="#111" stroke-width="2.4"/>
<path d="M1117.0 710.4H1113.0M1117.0 778.3H1113.0M1117.0 846.3H1113.0M1117.0 914.2H1113.0M1117.0 982.1H1113.0" stroke="#111" stroke-width="2.2"/>
<text x="1124.61" y="656.37" font-size="38.54" textLength="50.76" lengthAdjust="spacingAndGlyphs" font-family='"DejaVu Sans", sans-serif'>10</text>
<text x="1126.41" y="724.31" font-size="38.54" textLength="25.38" lengthAdjust="spacingAndGlyphs" font-family='"DejaVu Sans", sans-serif'>9</text>
<text x="1126.21" y="792.25" font-size="38.54" textLength="25.38" lengthAdjust="spacingAndGlyphs" font-family='"DejaVu Sans", sans-serif'>8</text>
<text x="1125.70" y="860.76" font-size="39.86" textLength="26.25" lengthAdjust="spacingAndGlyphs" font-family='"DejaVu Sans", sans-serif'>7</text>
<text x="1126.21" y="928.12" font-size="38.54" textLength="25.38" lengthAdjust="spacingAndGlyphs" font-family='"DejaVu Sans", sans-serif'>6</text>
<text x="1125.97" y="996.05" font-size="39.06" textLength="25.72" lengthAdjust="spacingAndGlyphs" font-family='"DejaVu Sans", sans-serif'>5</text>
<text transform="translate(1230.60 909.24) rotate(-90)" x="0" y="0" font-size="41.00" textLength="160.92" lengthAdjust="spacingAndGlyphs" font-family='"Liberation Sans", Arial, sans-serif'>mmol m</text><text transform="translate(1211.20 752.04) rotate(-90)" x="0" y="0" font-size="34.40" textLength="34.46" lengthAdjust="spacingAndGlyphs" font-family='"Liberation Sans", Arial, sans-serif'>-3</text>
<clipPath id="cpD"><rect x="1426.0" y="630.2" width="890.6" height="361.4"/></clipPath>
<rect x="1426.0" y="630.2" width="890.6" height="361.4" fill="#e6ffe6"/>
<g clip-path="url(#cpD)"><g transform="matrix(1.00000 0 0 1.00000 1232.300 556.700)">
<clipPath id="ecD"><polygon points="291,73.5 367.6,73.5 380,82 401,97.4 415,108 424.8,117.6 440,126 466.4,139 478,140 484,151 492.4,152.9 520,155.7 552,161 557,158.5 566.9,155.4 585,162 604,169.6 641.3,183.3 691,197 740.6,206.9 760,207.8 782,208.2 782,217.5 760,218.5 740.6,218 715.8,214.3 697.2,206.9 660,198.2 645,209.4 641.3,216.8 660,234.2 653.8,241.6 641.3,239 616.5,229.2 591.7,216.8 579.3,206.9 567,199.4 539.6,199.4 530,204 523.4,206.9 521,197 517,192 500,191.4 495,195 492,205.6 480,204 470,196 458,196 439,183 425,168 410.5,152 389,136.7 360.5,120 353,117.6 335,113 323.6,108 317.6,99.8 310,96 303,91.4 297,85 292.6,77"/></clipPath>
<linearGradient id="gaD" gradientUnits="userSpaceOnUse" x1="300" y1="74" x2="782" y2="212"><stop offset="0.0000" stop-color="#147ab4"/><stop offset="1.0000" stop-color="#147ab4"/></linearGradient>
<polygon points="291,73.5 367.6,73.5 380,82 401,97.4 415,108 424.8,117.6 440,126 466.4,139 478,140 484,151 492.4,152.9 520,155.7 552,161 557,158.5 566.9,155.4 585,162 604,169.6 641.3,183.3 691,197 740.6,206.9 760,207.8 782,208.2 782,217.5 760,218.5 740.6,218 715.8,214.3 697.2,206.9 660,198.2 645,209.4 641.3,216.8 660,234.2 653.8,241.6 641.3,239 616.5,229.2 591.7,216.8 579.3,206.9 567,199.4 539.6,199.4 530,204 523.4,206.9 521,197 517,192 500,191.4 495,195 492,205.6 480,204 470,196 458,196 439,183 425,168 410.5,152 389,136.7 360.5,120 353,117.6 335,113 323.6,108 317.6,99.8 310,96 303,91.4 297,85 292.6,77" fill="url(#gaD)"/>
<g clip-path="url(#ecD)">
<polygon points="600,205 645,209.4 641.3,216.8 660,234.2 653.8,241.6 641.3,239 616.5,229.2 591.7,216.8 579.3,206.9" fill="#147ab4"/>
<polyline points="350,80 362,88 378,98 395,108 413,120 428,131 436,137" fill="none" stroke="#ffd600" stroke-width="8" stroke-linejoin="round" stroke-linecap="round"/>
<polyline points="350,80 362,88 378,98 395,108 413,120 428,131 436,137" fill="none" stroke="#ff1d00" stroke-width="4" stroke-linejoin="round" stroke-linecap="round"/>
<ellipse cx="402" cy="112" rx="16.5" ry="9" transform="rotate(37 402 112)" fill="#ffd600"/><ellipse cx="402" cy="112" rx="14" ry="6.5" transform="rotate(37 402 112)" fill="#ff1200"/><ellipse cx="402" cy="112" rx="7" ry="3.2" transform="rotate(37 402 112)" fill="#5f0000"/>
<ellipse cx="352" cy="79" rx="4" ry="3" transform="rotate(30 352 79)" fill="#ffd600"/>
<ellipse cx="449.5" cy="139" rx="7.5" ry="7" transform="rotate(20 449.5 139)" fill="#fde804"/><ellipse cx="449.5" cy="139" rx="5" ry="4.5" transform="rotate(20 449.5 139)" fill="#ff1200"/><ellipse cx="449.5" cy="139" rx="2.5" ry="2.2" transform="rotate(20 449.5 139)" fill="#3f0000"/>
<ellipse cx="340" cy="111" rx="4.5" ry="4" transform="rotate(20 340 111)" fill="#ffd600"/><ellipse cx="340" cy="111" rx="3" ry="2.5" transform="rotate(20 340 111)" fill="#ff4006"/>
<ellipse cx="356" cy="116" rx="4.5" ry="4" transform="rotate(20 356 116)" fill="#ffd600"/><ellipse cx="356" cy="116" rx="3" ry="2.5" transform="rotate(20 356 116)" fill="#ff4006"/>
<ellipse cx="500" cy="176" rx="10" ry="6" transform="rotate(0 500 176)" fill="#dce61e"/>
<ellipse cx="472" cy="176" rx="12" ry="9" transform="rotate(-10 472 176)" fill="#fde804"/><ellipse cx="472" cy="176" rx="9" ry="6" transform="rotate(-10 472 176)" fill="#ff1200"/><ellipse cx="472" cy="176" rx="4.5" ry="3" transform="rotate(-10 472 176)" fill="#230000"/>
<ellipse cx="490" cy="173" rx="8.5" ry="7.5" transform="rotate(0 490 173)" fill="#fde804"/><ellipse cx="490" cy="173" rx="6" ry="5" transform="rotate(0 490 173)" fill="#ff1200"/>
<ellipse cx="484" cy="198" rx="15.5" ry="7.5" transform="rotate(5 484 198)" fill="#fde804"/><ellipse cx="484" cy="198" rx="13" ry="5" transform="rotate(5 484 198)" fill="#fc0900"/><ellipse cx="484" cy="198" rx="6.5" ry="2.5" transform="rotate(5 484 198)" fill="#330000"/>
<ellipse cx="528" cy="199" rx="7.5" ry="7.5" transform="rotate(0 528 199)" fill="#fde804"/><ellipse cx="528" cy="199" rx="5" ry="5" transform="rotate(0 528 199)" fill="#ff1200"/>
<ellipse cx="556.5" cy="187.7" rx="8" ry="5" transform="rotate(20 556.5 187.7)" fill="#fde804"/><ellipse cx="556.5" cy="187.7" rx="6" ry="3" transform="rotate(20 556.5 187.7)" fill="#ff1200"/>
<ellipse cx="587" cy="188" rx="5.5" ry="9.5" transform="rotate(10 587 188)" fill="#fde804"/><ellipse cx="587" cy="188" rx="3.5" ry="7.5" transform="rotate(10 587 188)" fill="#ff1d00"/>
<ellipse cx="518" cy="178.7" rx="5" ry="4" transform="rotate(0 518 178.7)" fill="#dce61e"/>
<ellipse cx="595" cy="196" rx="5" ry="4" transform="rotate(0 595 196)" fill="#dce61e"/>
<ellipse cx="613" cy="195" rx="4" ry="8" transform="rotate(10 613 195)" fill="#dce61e"/>
<polygon points="592,214 610,206 630,204 646,200 650,206 640,215 648,230 657,236 652,242 630,235 610,226 597,219" fill="#fde804"/>
<polygon points="597,215 612,208 630,206 644,202 646,207 637,216 644,229 650,236 630,232 612,224" fill="#ff1200"/>
<polyline points="643,201 632,214 623,223" fill="none" stroke="#190000" stroke-width="5" stroke-linejoin="round" stroke-linecap="round"/>
<polyline points="612,220 628,226" fill="none" stroke="#3f0000" stroke-width="5" stroke-linejoin="round" stroke-linecap="round"/>
<ellipse cx="646" cy="236" rx="6" ry="4" transform="rotate(30 646 236)" fill="#ff8801"/>
</g>
<polygon points="301,73.5 312.8,73.5 322,83 335,95 348,106 356,112 345,106.5 330,98 317.6,90 308,81" fill="#e6ffe6"/>
<g fill="none" stroke-linecap="round" stroke-linejoin="round">
<polyline points="906,377 920,375 935,371 950,370 963,374.5 976,386 989,399 1001,409" stroke="#1379b4" stroke-width="9"/>
<line x1="760" y1="226.5" x2="768" y2="224" stroke="#190000" stroke-width="7"/>
<line x1="768" y1="224" x2="775" y2="225" stroke="#190000" stroke-width="7"/>
<line x1="775" y1="225" x2="790" y2="237" stroke="#190000" stroke-width="7"/>
<line x1="790" y1="237" x2="809" y2="253" stroke="#8a0000" stroke-width="7"/>
<polyline points="719.5,215.6 725.7,225.5" stroke="#1379b4" stroke-width="2.2"/>
<line x1="738" y1="217" x2="745" y2="227" stroke="#860000" stroke-width="3.2"/>
<line x1="745" y1="227" x2="752" y2="238" stroke="#ff1d00" stroke-width="3.2"/>
<line x1="752" y1="238" x2="754" y2="250" stroke="#ff8602" stroke-width="3.2"/>
<line x1="754" y1="250" x2="755" y2="258" stroke="#ffc100" stroke-width="3.2"/>
<polyline points="750.6,226.7 768,226.7" stroke="#1379b4" stroke-width="2.2"/>
<polyline points="851.7,235.6 861.8,244.8" stroke="#3f0000" stroke-width="2.2"/>
<polyline points="830,269 862,280" stroke="#d30000" stroke-width="2.2"/>
<polyline points="806,255 815,264" stroke="#230000" stroke-width="6"/>
<polyline points="812,281 820,275" stroke="#230000" stroke-width="3.5"/>
<polyline points="880,213 877.6,222 877.6,254 875.7,272.6 871,287 866.5,300.4" stroke="#ff1d00" stroke-width="3.8"/>
<polyline points="839.6,214 843.3,225.3 848,243.8 848,265" stroke="#190000" stroke-width="8"/>
<polyline points="848,265 838,263.5 827.6,262.3" stroke="#190000" stroke-width="5"/>
<polyline points="845,226 856,232 866,236 866,220" stroke="#3f0000" stroke-width="3"/>
<polyline points="849,228 864.6,234.5" stroke="#230000" stroke-width="4"/>
<polyline points="850.7,239.2 862.8,245.6" stroke="#230000" stroke-width="4"/>
<polyline points="851.7,249.4 860,252 866,255" stroke="#3f0000" stroke-width="5"/>
<polyline points="922,218.8 941.5,225.3" stroke="#230000" stroke-width="2.6"/>
<polyline points="884,209 892.4,206.8 904.4,205.8 913.7,201.2 920.2,204 929.4,211.4 943.3,216 949.8,222.5 951.7,234.5 957.2,243.8" stroke="#5f0000" stroke-width="3"/>
<polyline points="912.8,203 912,212 915,219 922,223" stroke="#230000" stroke-width="2.4"/>
<polyline points="897,228 906,237 915.5,246.6 924.8,254.9 927.6,256.8 934,243.8 915.5,232.7 903,229" stroke="#190000" stroke-width="5"/>
<polyline points="888.7,228 888.7,244.8" stroke="#3f0000" stroke-width="2.8"/>
<polyline points="945,236 950,252" stroke="#3f0000" stroke-width="2.8"/>
<polyline points="886,255.5 901.7,260.5 915,261.4" stroke="#190000" stroke-width="12"/>
<line x1="965.5" y1="243.8" x2="983.6" y2="241.6" stroke="#147ab4" stroke-width="3.4"/>
<line x1="983.6" y1="241.6" x2="996.7" y2="246" stroke="#147ab4" stroke-width="3.4"/>
<line x1="996.7" y1="246" x2="1004" y2="253.3" stroke="#147ab4" stroke-width="3.4"/>
<line x1="1004" y1="253.3" x2="1016.4" y2="253.3" stroke="#ffca00" stroke-width="3.4"/>
<line x1="1016.4" y1="253.3" x2="1027.3" y2="242.4" stroke="#ff530a" stroke-width="3.4"/>
<line x1="1027.3" y1="242.4" x2="1034.5" y2="242.4" stroke="#ff4c09" stroke-width="3.4"/>
<line x1="1034.5" y1="242.4" x2="1048" y2="246.5" stroke="#f10300" stroke-width="3.4"/>
<line x1="1048" y1="246.5" x2="1062.2" y2="251.8" stroke="#e70000" stroke-width="3.4"/>
<polyline points="1032.4,246.7 1039.6,255.5" stroke="#860000" stroke-width="2.2"/>
<polyline points="1017,255.5 1028,265 1040.4,277.3" stroke="#860000" stroke-width="2.2"/>
<line x1="1005.5" y1="255.5" x2="1008" y2="265" stroke="#190000" stroke-width="7"/>
<line x1="1008" y1="265" x2="1012" y2="275" stroke="#470000" stroke-width="7"/>
<line x1="1012" y1="275" x2="1016.4" y2="284.5" stroke="#d30000" stroke-width="7"/>
<polyline points="996.3,301.9 1000,308 1005.6,313.9 1012,316 1019.4,316.7" stroke="#860000" stroke-width="2.2"/>
<polyline points="953,261.3 958.2,256.9 970,264 983.6,273.6 987.3,280.2" stroke="#3f0000" stroke-width="2.8"/>
<polyline points="953,262 954.5,264.2 970,272 987.3,281" stroke="#3f0000" stroke-width="2.8"/>
<polyline points="877.6,250.4 886,255 894.3,258.7 905,261 917.4,261.5 930,261.5 945,261.5 953,261.3" stroke="#140000" stroke-width="7"/>
<polyline points="826.7,268.9 835,280 843.3,291 855,297 866.5,302.2 877.2,308.6 881,318 884.7,327.6 887.8,348.8 890,372" stroke="#190000" stroke-width="7"/>
<polyline points="855,354 848.7,373" stroke="#330000" stroke-width="2.6"/>
<polyline points="863.5,360.4 859.3,376.3" stroke="#3f0000" stroke-width="2.6"/>
<polyline points="872,367.8 868.8,379.5" stroke="#3f0000" stroke-width="2.6"/>
<polyline points="880.4,371 876.2,381.6" stroke="#4a0000" stroke-width="2.6"/>
<line x1="817" y1="217" x2="822" y2="228" stroke="#147ab4" stroke-width="6"/>
<line x1="822" y1="228" x2="824.5" y2="245" stroke="#147ab4" stroke-width="6"/>
<line x1="824.5" y1="245" x2="823.5" y2="263" stroke="#147ab4" stroke-width="6"/>
<line x1="823.5" y1="263" x2="823.5" y2="277" stroke="#147ab4" stroke-width="6"/>
<line x1="823.5" y1="277" x2="824.5" y2="292" stroke="#2a869e" stroke-width="6"/>
<line x1="824.5" y1="292" x2="828" y2="310" stroke="#64a55a" stroke-width="6"/>
<line x1="828" y1="310" x2="838" y2="325" stroke="#64a55a" stroke-width="6"/>
<line x1="838" y1="325" x2="846" y2="337" stroke="#388f90" stroke-width="6"/>
<line x1="846" y1="337" x2="851" y2="346" stroke="#2382a5" stroke-width="6"/>
<line x1="851" y1="346" x2="859" y2="354" stroke="#197daf" stroke-width="6"/>
<line x1="859" y1="354" x2="874" y2="364.7" stroke="#147ab4" stroke-width="6"/>
<line x1="874" y1="364.7" x2="890" y2="373" stroke="#147ab4" stroke-width="6"/>
<line x1="890" y1="373" x2="911" y2="380.5" stroke="#147ab4" stroke-width="6"/>
<line x1="911" y1="380.5" x2="921.7" y2="380.5" stroke="#147ab4" stroke-width="6"/>
<line x1="921.7" y1="380.5" x2="937.6" y2="376.3" stroke="#147ab4" stroke-width="6"/>
<line x1="937.6" y1="376.3" x2="950.3" y2="375.2" stroke="#147ab4" stroke-width="6"/>
<line x1="950.3" y1="375.2" x2="964" y2="381.6" stroke="#147ab4" stroke-width="6"/>
<line x1="964" y1="381.6" x2="977.8" y2="392.6" stroke="#147ab4" stroke-width="6"/>
<line x1="977.8" y1="392.6" x2="987" y2="404.6" stroke="#147ab4" stroke-width="6"/>
<line x1="987" y1="404.6" x2="1001" y2="413.9" stroke="#147ab4" stroke-width="6"/>
<line x1="1001" y1="413.9" x2="1014.8" y2="422.2" stroke="#147ab4" stroke-width="6"/>
<line x1="1014.8" y1="422.2" x2="1024" y2="427.8" stroke="#147ab4" stroke-width="6"/>
<line x1="1024" y1="427.8" x2="1036" y2="437" stroke="#147ab4" stroke-width="6"/>
<polyline points="880,210.5 895,215 917,223.5 940,230.5 954.5,237.3 972.7,248.2 987.3,259.1 996.7,273.6 998,284.5 996.5,300 987,318.5 984.3,332.4 985.2,346.3 989.8,357.4 998.1,366.7 1002.8,378.7 1003.7,397.2 1007.4,411.1 1019.4,422.2 1031.5,429.6 1038,437" stroke="#147ab4" stroke-width="6"/>
<polyline points="770,212.8 790,212.5 815,212 835,210 857,206.8 870,207.8 882,210.5" stroke="#1379b4" stroke-width="9"/>
<polygon points="820,286 827,285 831,300 837,315 842,327 834,328 825,320 821,305" fill="#140000"/>
<polygon points="751,255 758,252 766,262 762,265 752,268" fill="#ffb700"/>
<polygon points="858,254 866,251 871,255 868,266 864,273 859,271 862,262" fill="#ffb700"/>
<polygon points="768,219 776,217 781,222 779,229 772,229" fill="#230000"/>
<ellipse cx="980" cy="318" rx="4.5" ry="9" transform="rotate(25 980 318)" fill="#1379b4"/>
</g>
</g></g>
<path d="M1569.8 991.6V983.6M1569.8 630.2V638.2M1713.5 991.6V983.6M1713.5 630.2V638.2M1857.3 991.6V983.6M1857.3 630.2V638.2M2001.1 991.6V983.6M2001.1 630.2V638.2M2144.8 991.6V983.6M2144.8 630.2V638.2M2288.6 991.6V983.6M2288.6 630.2V638.2M1426.0 710.5H1434.0M2316.6 710.5H2308.6M1426.0 790.7H1434.0M2316.6 790.7H2308.6M1426.0 871.0H1434.0M2316.6 871.0H2308.6M1426.0 951.2H1434.0M2316.6 951.2H2308.6" stroke="#111" stroke-width="2.2" fill="none"/>
<rect x="1426.0" y="630.2" width="890.6" height="361.4" fill="none" stroke="#1c1c1c" stroke-width="2.6"/>
<text x="1394.49" y="1029.00" font-size="39.74" textLength="63.13" lengthAdjust="spacingAndGlyphs" font-family='"DejaVu Sans", sans-serif'>30&#39;</text>
<text x="1538.54" y="1029.00" font-size="39.74" textLength="62.57" lengthAdjust="spacingAndGlyphs" font-family='"DejaVu Sans", sans-serif'>36&#39;</text>
<text x="1682.71" y="1029.60" font-size="40.54" textLength="62.78" lengthAdjust="spacingAndGlyphs" font-family='"DejaVu Sans", sans-serif'>42&#39;</text>
<text x="1826.48" y="1029.00" font-size="39.74" textLength="62.78" lengthAdjust="spacingAndGlyphs" font-family='"DejaVu Sans", sans-serif'>48&#39;</text>
<text x="1970.29" y="1029.00" font-size="40.27" textLength="61.67" lengthAdjust="spacingAndGlyphs" font-family='"DejaVu Sans", sans-serif'>54&#39;</text>
<text x="2103.93" y="1040.42" font-size="38.54" textLength="51.13" lengthAdjust="spacingAndGlyphs" font-family='"DejaVu Sans", sans-serif'>10</text>
<text x="2152.85" y="1020.47" font-size="28.70" textLength="20.07" lengthAdjust="spacingAndGlyphs" font-family='"DejaVu Sans", sans-serif'>o</text>
<text x="2172.94" y="1040.70" font-size="39.04" textLength="25.95" lengthAdjust="spacingAndGlyphs" font-family='"DejaVu Sans", sans-serif'>E</text>
<text x="2276.32" y="1029.06" font-size="35.76" textLength="36.45" lengthAdjust="spacingAndGlyphs" font-family='"DejaVu Sans", sans-serif'>6&#39;</text>
<text x="1351.79" y="643.12" font-size="38.41" textLength="62.12" lengthAdjust="spacingAndGlyphs" font-family='"DejaVu Sans", sans-serif'>36&#39;</text>
<text x="1351.68" y="723.37" font-size="38.41" textLength="62.23" lengthAdjust="spacingAndGlyphs" font-family='"DejaVu Sans", sans-serif'>34&#39;</text>
<text x="1351.68" y="883.87" font-size="38.41" textLength="62.23" lengthAdjust="spacingAndGlyphs" font-family='"DejaVu Sans", sans-serif'>30&#39;</text>
<text x="1351.68" y="964.12" font-size="38.41" textLength="62.23" lengthAdjust="spacingAndGlyphs" font-family='"DejaVu Sans", sans-serif'>28&#39;</text>
<text x="1314.03" y="786.93" font-size="38.15" textLength="50.33" lengthAdjust="spacingAndGlyphs" font-family='"DejaVu Sans", sans-serif'>53</text>
<text x="1364.21" y="767.92" font-size="32.00" textLength="19.94" lengthAdjust="spacingAndGlyphs" font-family='"DejaVu Sans", sans-serif'>o</text>
<text x="1383.16" y="787.50" font-size="38.90" textLength="30.19" lengthAdjust="spacingAndGlyphs" font-family='"DejaVu Sans", sans-serif'>N</text>
<text x="1289.74" y="833.50" font-size="40.00" textLength="124.03" lengthAdjust="spacingAndGlyphs" font-family='"DejaVu Sans", sans-serif'>32.00&#39;</text>
<linearGradient id="cbD" x1="0" y1="0" x2="0" y2="1"><stop offset="0.000" stop-color="#0a0000"/><stop offset="0.042" stop-color="#1f0000"/><stop offset="0.083" stop-color="#350000"/><stop offset="0.125" stop-color="#4d0000"/><stop offset="0.167" stop-color="#6c0000"/><stop offset="0.208" stop-color="#8c0000"/><stop offset="0.250" stop-color="#ac0000"/><stop offset="0.292" stop-color="#cd0000"/><stop offset="0.333" stop-color="#ed0100"/><stop offset="0.375" stop-color="#ff0f00"/><stop offset="0.417" stop-color="#ff2600"/><stop offset="0.458" stop-color="#ff4708"/><stop offset="0.500" stop-color="#ff620a"/><stop offset="0.542" stop-color="#ff7707"/><stop offset="0.583" stop-color="#ff8901"/><stop offset="0.625" stop-color="#ffa500"/><stop offset="0.667" stop-color="#ffc200"/><stop offset="0.708" stop-color="#ffdb00"/><stop offset="0.750" stop-color="#e8ee16"/><stop offset="0.792" stop-color="#a6c630"/><stop offset="0.833" stop-color="#6ba853"/><stop offset="0.875" stop-color="#47977b"/><stop offset="0.917" stop-color="#2d889b"/><stop offset="0.958" stop-color="#157ab3"/><stop offset="1.000" stop-color="#1076b4"/></linearGradient>
<rect x="2326.8" y="630.2" width="22.3" height="362.0" fill="url(#cbD)" stroke="#111" stroke-width="2.4"/>
<path d="M2349.1 708.2H2345.1M2349.1 775.8H2345.1M2349.1 843.4H2345.1M2349.1 911.0H2345.1M2349.1 978.6H2345.1" stroke="#111" stroke-width="2.2"/>
<text x="2358.11" y="654.52" font-size="38.54" textLength="76.14" lengthAdjust="spacingAndGlyphs" font-family='"DejaVu Sans", sans-serif'>250</text>
<text x="2358.11" y="722.12" font-size="38.54" textLength="76.14" lengthAdjust="spacingAndGlyphs" font-family='"DejaVu Sans", sans-serif'>200</text>
<text x="2356.71" y="789.72" font-size="38.54" textLength="76.14" lengthAdjust="spacingAndGlyphs" font-family='"DejaVu Sans", sans-serif'>150</text>
<text x="2356.71" y="857.32" font-size="38.54" textLength="76.14" lengthAdjust="spacingAndGlyphs" font-family='"DejaVu Sans", sans-serif'>100</text>
<text x="2358.11" y="924.92" font-size="38.54" textLength="50.76" lengthAdjust="spacingAndGlyphs" font-family='"DejaVu Sans", sans-serif'>50</text>
<text x="2358.51" y="992.52" font-size="38.54" textLength="25.38" lengthAdjust="spacingAndGlyphs" font-family='"DejaVu Sans", sans-serif'>0</text>
<text transform="translate(2479.30 902.67) rotate(-90)" x="0" y="0" font-size="41.00" textLength="162.28" lengthAdjust="spacingAndGlyphs" font-family='"Liberation Sans", Arial, sans-serif'>mmol m</text><text transform="translate(2460.80 744.02) rotate(-90)" x="0" y="0" font-size="34.40" textLength="34.00" lengthAdjust="spacingAndGlyphs" font-family='"Liberation Sans", Arial, sans-serif'>-2</text>
<clipPath id="cpE"><rect x="193.9" y="1141.0" width="890.4" height="361.9"/></clipPath>
<rect x="193.9" y="1141.0" width="890.4" height="361.9" fill="#e6ffe6"/>
<g clip-path="url(#cpE)"><g transform="matrix(0.99978 0 0 1.00138 0.243 1067.398)">
<clipPath id="ecE"><polygon points="291,73.5 367.6,73.5 380,82 401,97.4 415,108 424.8,117.6 440,126 466.4,139 478,140 484,151 492.4,152.9 520,155.7 552,161 557,158.5 566.9,155.4 585,162 604,169.6 641.3,183.3 691,197 740.6,206.9 760,207.8 782,208.2 782,217.5 760,218.5 740.6,218 715.8,214.3 697.2,206.9 660,198.2 645,209.4 641.3,216.8 660,234.2 653.8,241.6 641.3,239 616.5,229.2 591.7,216.8 579.3,206.9 567,199.4 539.6,199.4 530,204 523.4,206.9 521,197 517,192 500,191.4 495,195 492,205.6 480,204 470,196 458,196 439,183 425,168 410.5,152 389,136.7 360.5,120 353,117.6 335,113 323.6,108 317.6,99.8 310,96 303,91.4 297,85 292.6,77"/></clipPath>
<linearGradient id="gaE" gradientUnits="userSpaceOnUse" x1="300" y1="74" x2="782" y2="212"><stop offset="0.0000" stop-color="#2382a5"/><stop offset="0.1500" stop-color="#3f9288"/><stop offset="0.3000" stop-color="#6eaa50"/><stop offset="0.4500" stop-color="#bad229"/><stop offset="0.6000" stop-color="#f4f60e"/><stop offset="0.7000" stop-color="#ffd600"/><stop offset="0.8000" stop-color="#ffa100"/><stop offset="0.9000" stop-color="#ff8303"/><stop offset="1.0000" stop-color="#ff7209"/></linearGradient>
<polygon points="291,73.5 367.6,73.5 380,82 401,97.4 415,108 424.8,117.6 440,126 466.4,139 478,140 484,151 492.4,152.9 520,155.7 552,161 557,158.5 566.9,155.4 585,162 604,169.6 641.3,183.3 691,197 740.6,206.9 760,207.8 782,208.2 782,217.5 760,218.5 740.6,218 715.8,214.3 697.2,206.9 660,198.2 645,209.4 641.3,216.8 660,234.2 653.8,241.6 641.3,239 616.5,229.2 591.7,216.8 579.3,206.9 567,199.4 539.6,199.4 530,204 523.4,206.9 521,197 517,192 500,191.4 495,195 492,205.6 480,204 470,196 458,196 439,183 425,168 410.5,152 389,136.7 360.5,120 353,117.6 335,113 323.6,108 317.6,99.8 310,96 303,91.4 297,85 292.6,77" fill="url(#gaE)"/>
<g clip-path="url(#ecE)">
<polygon points="288,73.5 301,73.5 308,81 317.6,90 330,98 345,106.5 356,112 362,120 353,117.6 335,113 323.6,108 317.6,99.8 310,96 303,91.4 297,85 292.6,77" fill="#1379b4"/>
<linearGradient id="glE" gradientUnits="userSpaceOnUse" x1="600" y1="205" x2="655" y2="240"><stop offset="0.0000" stop-color="#ffd600"/><stop offset="0.5000" stop-color="#ff8801"/><stop offset="1.0000" stop-color="#ff3002"/></linearGradient>
<polygon points="600,205 645,209.4 641.3,216.8 660,234.2 653.8,241.6 641.3,239 616.5,229.2 591.7,216.8 579.3,206.9" fill="url(#glE)"/>
<linearGradient id="gneE" gradientUnits="userSpaceOnUse" x1="360" y1="0" x2="600" y2="0"><stop offset="0.0000" stop-color="#64a55a"/><stop offset="0.3000" stop-color="#99bf36"/><stop offset="0.6000" stop-color="#cbdc24"/><stop offset="1.0000" stop-color="#f4f60e"/></linearGradient>
<polygon points="362,73.5 367.6,73.5 380,82 401,97.4 415,108 424.8,117.6 440,126 466.4,139 478,140 484,151 492.4,152.9 520,155.7 552,161 557,158.5 566.9,155.4 585,162 604,169.6 600,176 560,170 520,165 480,158 440,140 405,118 380,100" fill="url(#gneE)" filter="url(#blr)"/>
<polyline points="362,72 372,77 380,82 396,94 405,100 415,108 424.8,117.6 440,126 466.4,139 478,140 484,151 492.4,152.9 520,155.7 552,161" fill="none" stroke="#1379b4" stroke-width="5" stroke-linejoin="round" stroke-linecap="round"/>
<polyline points="552,161 557,158.5 566.9,155.4 585,162 604,169.6" fill="none" stroke="#1379b4" stroke-width="4" stroke-linejoin="round" stroke-linecap="round"/>
<polygon points="438,128 447,129 448,138 440,137" fill="#1379b4"/>
<polygon points="465,138 480,139 482,147 468,146" fill="#1379b4"/>
<polygon points="434,161 450,160 468,164 475,167 462,170 452,178 440,176" fill="#1379b4"/>
<polygon points="539,176 560,177 582,179 582,188 566,186 550,187 541,183" fill="#1379b4"/>
<ellipse cx="460" cy="170" rx="8" ry="4" transform="rotate(0 460 170)" fill="#ff9300"/>
</g>
<polygon points="301,73.5 312.8,73.5 322,83 335,95 348,106 356,112 345,106.5 330,98 317.6,90 308,81" fill="#e6ffe6"/>
<g fill="none" stroke-linecap="round" stroke-linejoin="round">
<polyline points="906,377 920,375 935,371 950,370 963,374.5 976,386 989,399 1001,409" stroke="#1379b4" stroke-width="9"/>
<line x1="760" y1="226.5" x2="768" y2="224" stroke="#ff1800" stroke-width="6"/>
<line x1="768" y1="224" x2="775" y2="225" stroke="#ff1200" stroke-width="6"/>
<line x1="775" y1="225" x2="790" y2="237" stroke="#ff0a00" stroke-width="6"/>
<line x1="790" y1="237" x2="809" y2="253" stroke="#e70000" stroke-width="6"/>
<polyline points="719.5,215.6 725.7,225.5" stroke="#197daf" stroke-width="2.2"/>
<line x1="738" y1="217" x2="745" y2="227" stroke="#ff7009" stroke-width="3.2"/>
<line x1="745" y1="227" x2="752" y2="238" stroke="#ff9300" stroke-width="3.2"/>
<line x1="752" y1="238" x2="754" y2="250" stroke="#c2d727" stroke-width="3.2"/>
<line x1="754" y1="250" x2="755" y2="258" stroke="#2784a1" stroke-width="3.2"/>
<polyline points="750.6,226.7 768,226.7" stroke="#197daf" stroke-width="2.2"/>
<polyline points="851.7,235.6 861.8,244.8" stroke="#ff1d00" stroke-width="2.2"/>
<polyline points="830,269 862,280" stroke="#ff1d00" stroke-width="2.2"/>
<polyline points="806,255 815,264" stroke="#3f0000" stroke-width="5"/>
<polyline points="812,281 820,275" stroke="#4a0000" stroke-width="3.5"/>
<polyline points="880,213 877.6,222 877.6,254 875.7,272.6 871,287 866.5,300.4" stroke="#ff1d00" stroke-width="3.8"/>
<polyline points="839.6,214 843.3,225.3 848,243.8 848,265" stroke="#ff1200" stroke-width="5.5"/>
<polyline points="848,265 838,263.5 827.6,262.3" stroke="#ff1d00" stroke-width="4"/>
<polyline points="845,226 856,232 866,236 866,220" stroke="#ff1d00" stroke-width="3"/>
<polyline points="849,228 864.6,234.5" stroke="#ff1200" stroke-width="3"/>
<polyline points="850.7,239.2 862.8,245.6" stroke="#3f0000" stroke-width="3"/>
<polyline points="851.7,249.4 860,252 866,255" stroke="#ff1200" stroke-width="4.5"/>
<polyline points="922,218.8 941.5,225.3" stroke="#4a0000" stroke-width="2.6"/>
<polyline points="884,209 892.4,206.8 904.4,205.8 913.7,201.2 920.2,204 929.4,211.4 943.3,216 949.8,222.5 951.7,234.5 957.2,243.8" stroke="#ff1d00" stroke-width="3"/>
<polyline points="912.8,203 912,212 915,219 922,223" stroke="#ff1d00" stroke-width="2.4"/>
<polyline points="897,228 906,237 915.5,246.6 924.8,254.9 927.6,256.8 934,243.8 915.5,232.7 903,229" stroke="#ff1200" stroke-width="4"/>
<polyline points="888.7,228 888.7,244.8" stroke="#ff1d00" stroke-width="2.8"/>
<polyline points="945,236 950,252" stroke="#ff1d00" stroke-width="2.8"/>
<polyline points="886,255.5 901.7,260.5 915,261.4" stroke="#ff0d00" stroke-width="8"/>
<line x1="965.5" y1="243.8" x2="983.6" y2="241.6" stroke="#ff1d00" stroke-width="3.4"/>
<line x1="983.6" y1="241.6" x2="996.7" y2="246" stroke="#ff1d00" stroke-width="3.4"/>
<line x1="996.7" y1="246" x2="1004" y2="253.3" stroke="#ff1d00" stroke-width="3.4"/>
<line x1="1004" y1="253.3" x2="1016.4" y2="253.3" stroke="#ff1d00" stroke-width="3.4"/>
<line x1="1016.4" y1="253.3" x2="1027.3" y2="242.4" stroke="#ff2c01" stroke-width="3.4"/>
<line x1="1027.3" y1="242.4" x2="1034.5" y2="242.4" stroke="#ff620a" stroke-width="3.4"/>
<line x1="1034.5" y1="242.4" x2="1048" y2="246.5" stroke="#ffa500" stroke-width="3.4"/>
<line x1="1048" y1="246.5" x2="1062.2" y2="251.8" stroke="#75ae4c" stroke-width="3.4"/>
<polyline points="1032.4,246.7 1039.6,255.5" stroke="#ff9300" stroke-width="2.2"/>
<polyline points="1017,255.5 1028,265 1040.4,277.3" stroke="#ff620a" stroke-width="2.2"/>
<line x1="1005.5" y1="255.5" x2="1008" y2="265" stroke="#fc0900" stroke-width="5.5"/>
<line x1="1008" y1="265" x2="1012" y2="275" stroke="#ff0d00" stroke-width="5.5"/>
<line x1="1012" y1="275" x2="1016.4" y2="284.5" stroke="#ff7009" stroke-width="5.5"/>
<polyline points="996.3,301.9 1000,308 1005.6,313.9 1012,316 1019.4,316.7" stroke="#860000" stroke-width="2.2"/>
<polyline points="953,261.3 958.2,256.9 970,264 983.6,273.6 987.3,280.2" stroke="#ff1200" stroke-width="2.8"/>
<polyline points="953,262 954.5,264.2 970,272 987.3,281" stroke="#ff1200" stroke-width="2.8"/>
<polyline points="877.6,250.4 886,255 894.3,258.7 905,261 917.4,261.5 930,261.5 945,261.5 953,261.3" stroke="#ff1d00" stroke-width="5.5"/>
<polyline points="826.7,268.9 835,280 843.3,291 855,297 866.5,302.2 877.2,308.6 881,318 884.7,327.6 887.8,348.8 890,372" stroke="#ff1d00" stroke-width="4.6"/>
<polyline points="855,354 848.7,373" stroke="#5f0000" stroke-width="2.6"/>
<polyline points="863.5,360.4 859.3,376.3" stroke="#5f0000" stroke-width="2.6"/>
<polyline points="872,367.8 868.8,379.5" stroke="#5f0000" stroke-width="2.6"/>
<polyline points="880.4,371 876.2,381.6" stroke="#5f0000" stroke-width="2.6"/>
<polyline points="817,217 822,228 824.5,245 823.5,263 823.5,277 824.5,292 828,310 838,325 846,337 851,346 859,354 874,364.7 890,373 911,380.5 921.7,380.5 937.6,376.3 950.3,375.2 964,381.6 977.8,392.6 987,404.6 1001,413.9 1014.8,422.2 1024,427.8 1036,437" stroke="#ff1d00" stroke-width="6"/>
<polyline points="880,210.5 895,215 917,223.5 940,230.5 954.5,237.3 972.7,248.2 987.3,259.1 996.7,273.6 998,284.5 996.5,300 987,318.5 984.3,332.4 985.2,346.3 989.8,357.4 998.1,366.7 1002.8,378.7 1003.7,397.2 1007.4,411.1 1019.4,422.2 1031.5,429.6 1038,437" stroke="#ff1d00" stroke-width="6"/>
<line x1="770" y1="212.8" x2="790" y2="212.5" stroke="#ff7906" stroke-width="9"/>
<line x1="790" y1="212.5" x2="815" y2="212" stroke="#ff7209" stroke-width="9"/>
<line x1="815" y1="212" x2="835" y2="210" stroke="#ff680a" stroke-width="9"/>
<line x1="835" y1="210" x2="857" y2="206.8" stroke="#ff5c0a" stroke-width="9"/>
<line x1="857" y1="206.8" x2="870" y2="207.8" stroke="#ff530a" stroke-width="9"/>
<line x1="870" y1="207.8" x2="882" y2="210.5" stroke="#ff4808" stroke-width="9"/>
<polygon points="820,286 827,285 831,300 837,315 842,327 834,328 825,320 821,305" fill="#ff1200"/>
<polygon points="751,255 758,252 766,262 762,265 752,268" fill="#1379b4"/>
<polygon points="858,254 866,251 871,255 868,266 864,273 859,271 862,262" fill="#ff1d00"/>
<polygon points="768,219 776,217 781,222 779,229 772,229" fill="#ff1d00"/>
<ellipse cx="980" cy="318" rx="4.5" ry="9" transform="rotate(25 980 318)" fill="#1379b4"/>
</g>
</g></g>
<path d="M337.6 1502.9V1494.9M337.6 1141.0V1149.0M481.4 1502.9V1494.9M481.4 1141.0V1149.0M625.1 1502.9V1494.9M625.1 1141.0V1149.0M768.9 1502.9V1494.9M768.9 1141.0V1149.0M912.6 1502.9V1494.9M912.6 1141.0V1149.0M1056.3 1502.9V1494.9M1056.3 1141.0V1149.0M193.9 1221.4H201.9M1084.3 1221.4H1076.3M193.9 1301.7H201.9M1084.3 1301.7H1076.3M193.9 1382.1H201.9M1084.3 1382.1H1076.3M193.9 1462.4H201.9M1084.3 1462.4H1076.3" stroke="#111" stroke-width="2.2" fill="none"/>
<rect x="193.9" y="1141.0" width="890.4" height="361.9" fill="none" stroke="#1c1c1c" stroke-width="2.6"/>
<text x="162.39" y="1540.30" font-size="39.74" textLength="63.13" lengthAdjust="spacingAndGlyphs" font-family='"DejaVu Sans", sans-serif'>30&#39;</text>
<text x="306.41" y="1540.30" font-size="39.74" textLength="62.57" lengthAdjust="spacingAndGlyphs" font-family='"DejaVu Sans", sans-serif'>36&#39;</text>
<text x="450.55" y="1540.90" font-size="40.54" textLength="62.78" lengthAdjust="spacingAndGlyphs" font-family='"DejaVu Sans", sans-serif'>42&#39;</text>
<text x="594.28" y="1540.30" font-size="39.74" textLength="62.78" lengthAdjust="spacingAndGlyphs" font-family='"DejaVu Sans", sans-serif'>48&#39;</text>
<text x="738.06" y="1540.30" font-size="40.27" textLength="61.67" lengthAdjust="spacingAndGlyphs" font-family='"DejaVu Sans", sans-serif'>54&#39;</text>
<text x="871.67" y="1551.72" font-size="38.54" textLength="51.13" lengthAdjust="spacingAndGlyphs" font-family='"DejaVu Sans", sans-serif'>10</text>
<text x="920.58" y="1531.77" font-size="28.70" textLength="20.07" lengthAdjust="spacingAndGlyphs" font-family='"DejaVu Sans", sans-serif'>o</text>
<text x="940.68" y="1552.00" font-size="39.04" textLength="25.95" lengthAdjust="spacingAndGlyphs" font-family='"DejaVu Sans", sans-serif'>E</text>
<text x="1044.03" y="1540.36" font-size="35.76" textLength="36.45" lengthAdjust="spacingAndGlyphs" font-family='"DejaVu Sans", sans-serif'>6&#39;</text>
<text x="119.69" y="1153.92" font-size="38.41" textLength="62.12" lengthAdjust="spacingAndGlyphs" font-family='"DejaVu Sans", sans-serif'>36&#39;</text>
<text x="119.58" y="1234.28" font-size="38.41" textLength="62.23" lengthAdjust="spacingAndGlyphs" font-family='"DejaVu Sans", sans-serif'>34&#39;</text>
<text x="119.58" y="1395.01" font-size="38.41" textLength="62.23" lengthAdjust="spacingAndGlyphs" font-family='"DejaVu Sans", sans-serif'>30&#39;</text>
<text x="119.58" y="1475.37" font-size="38.41" textLength="62.23" lengthAdjust="spacingAndGlyphs" font-family='"DejaVu Sans", sans-serif'>28&#39;</text>
<text x="81.93" y="1297.95" font-size="38.15" textLength="50.33" lengthAdjust="spacingAndGlyphs" font-family='"DejaVu Sans", sans-serif'>53</text>
<text x="132.11" y="1278.94" font-size="32.00" textLength="19.94" lengthAdjust="spacingAndGlyphs" font-family='"DejaVu Sans", sans-serif'>o</text>
<text x="151.06" y="1298.52" font-size="38.90" textLength="30.19" lengthAdjust="spacingAndGlyphs" font-family='"DejaVu Sans", sans-serif'>N</text>
<text x="57.64" y="1344.52" font-size="40.00" textLength="124.03" lengthAdjust="spacingAndGlyphs" font-family='"DejaVu Sans", sans-serif'>32.00&#39;</text>
<linearGradient id="cbE" x1="0" y1="0" x2="0" y2="1"><stop offset="0.000" stop-color="#0a0000"/><stop offset="0.042" stop-color="#1f0000"/><stop offset="0.083" stop-color="#350000"/><stop offset="0.125" stop-color="#4d0000"/><stop offset="0.167" stop-color="#6c0000"/><stop offset="0.208" stop-color="#8c0000"/><stop offset="0.250" stop-color="#ac0000"/><stop offset="0.292" stop-color="#cd0000"/><stop offset="0.333" stop-color="#ed0100"/><stop offset="0.375" stop-color="#ff0f00"/><stop offset="0.417" stop-color="#ff2600"/><stop offset="0.458" stop-color="#ff4708"/><stop offset="0.500" stop-color="#ff620a"/><stop offset="0.542" stop-color="#ff7707"/><stop offset="0.583" stop-color="#ff8901"/><stop offset="0.625" stop-color="#ffa500"/><stop offset="0.667" stop-color="#ffc200"/><stop offset="0.708" stop-color="#ffdb00"/><stop offset="0.750" stop-color="#e8ee16"/><stop offset="0.792" stop-color="#a6c630"/><stop offset="0.833" stop-color="#6ba853"/><stop offset="0.875" stop-color="#47977b"/><stop offset="0.917" stop-color="#2d889b"/><stop offset="0.958" stop-color="#157ab3"/><stop offset="1.000" stop-color="#1076b4"/></linearGradient>
<rect x="1094.5" y="1141.0" width="22.3" height="362.5" fill="url(#cbE)" stroke="#111" stroke-width="2.4"/>
<path d="M1116.8 1219.1H1112.8M1116.8 1286.8H1112.8M1116.8 1354.5H1112.8M1116.8 1422.2H1112.8M1116.8 1489.9H1112.8" stroke="#111" stroke-width="2.2"/>
<text x="1124.26" y="1165.91" font-size="39.86" textLength="52.50" lengthAdjust="spacingAndGlyphs" font-family='"DejaVu Sans", sans-serif'>17</text>
<text x="1124.35" y="1233.02" font-size="39.06" textLength="51.44" lengthAdjust="spacingAndGlyphs" font-family='"DejaVu Sans", sans-serif'>15</text>
<text x="1124.41" y="1300.72" font-size="38.54" textLength="50.76" lengthAdjust="spacingAndGlyphs" font-family='"DejaVu Sans", sans-serif'>13</text>
<text x="1124.26" y="1368.99" font-size="39.86" textLength="52.50" lengthAdjust="spacingAndGlyphs" font-family='"DejaVu Sans", sans-serif'>11</text>
<text x="1126.21" y="1436.11" font-size="38.54" textLength="25.38" lengthAdjust="spacingAndGlyphs" font-family='"DejaVu Sans", sans-serif'>9</text>
<text x="1125.50" y="1504.38" font-size="39.86" textLength="26.25" lengthAdjust="spacingAndGlyphs" font-family='"DejaVu Sans", sans-serif'>7</text>
<text transform="translate(1230.90 1417.96) rotate(-90)" x="0" y="0" font-size="41.00" textLength="162.17" lengthAdjust="spacingAndGlyphs" font-family='"Liberation Sans", Arial, sans-serif'>mmol m</text><text transform="translate(1211.60 1258.07) rotate(-90)" x="0" y="0" font-size="34.40" textLength="33.01" lengthAdjust="spacingAndGlyphs" font-family='"Liberation Sans", Arial, sans-serif'>-3</text>
<clipPath id="cpF"><rect x="1426.0" y="1137.5" width="890.5" height="362.9"/></clipPath>
<rect x="1426.0" y="1137.5" width="890.5" height="362.9" fill="#e6ffe6"/>
<g clip-path="url(#cpF)"><g transform="matrix(0.99989 0 0 1.00415 1232.322 1063.695)">
<clipPath id="ecF"><polygon points="291,73.5 367.6,73.5 380,82 401,97.4 415,108 424.8,117.6 440,126 466.4,139 478,140 484,151 492.4,152.9 520,155.7 552,161 557,158.5 566.9,155.4 585,162 604,169.6 641.3,183.3 691,197 740.6,206.9 760,207.8 782,208.2 782,217.5 760,218.5 740.6,218 715.8,214.3 697.2,206.9 660,198.2 645,209.4 641.3,216.8 660,234.2 653.8,241.6 641.3,239 616.5,229.2 591.7,216.8 579.3,206.9 567,199.4 539.6,199.4 530,204 523.4,206.9 521,197 517,192 500,191.4 495,195 492,205.6 480,204 470,196 458,196 439,183 425,168 410.5,152 389,136.7 360.5,120 353,117.6 335,113 323.6,108 317.6,99.8 310,96 303,91.4 297,85 292.6,77"/></clipPath>
<linearGradient id="gaF" gradientUnits="userSpaceOnUse" x1="300" y1="74" x2="782" y2="212"><stop offset="0.0000" stop-color="#e7ed0c"/><stop offset="0.3000" stop-color="#d7e114"/><stop offset="0.6000" stop-color="#c2d517"/><stop offset="0.7500" stop-color="#b4cd19"/><stop offset="0.8500" stop-color="#ffc000"/><stop offset="1.0000" stop-color="#ff6f00"/></linearGradient>
<polygon points="291,73.5 367.6,73.5 380,82 401,97.4 415,108 424.8,117.6 440,126 466.4,139 478,140 484,151 492.4,152.9 520,155.7 552,161 557,158.5 566.9,155.4 585,162 604,169.6 641.3,183.3 691,197 740.6,206.9 760,207.8 782,208.2 782,217.5 760,218.5 740.6,218 715.8,214.3 697.2,206.9 660,198.2 645,209.4 641.3,216.8 660,234.2 653.8,241.6 641.3,239 616.5,229.2 591.7,216.8 579.3,206.9 567,199.4 539.6,199.4 530,204 523.4,206.9 521,197 517,192 500,191.4 495,195 492,205.6 480,204 470,196 458,196 439,183 425,168 410.5,152 389,136.7 360.5,120 353,117.6 335,113 323.6,108 317.6,99.8 310,96 303,91.4 297,85 292.6,77" fill="url(#gaF)"/>
<g clip-path="url(#ecF)">
<polygon points="288,73.5 301,73.5 308,81 317.6,90 330,98 345,106.5 356,112 362,120 353,117.6 335,113 323.6,108 317.6,99.8 310,96 303,91.4 297,85 292.6,77" fill="#ebf00a"/>
<linearGradient id="glF" gradientUnits="userSpaceOnUse" x1="600" y1="205" x2="655" y2="240"><stop offset="0.0000" stop-color="#97be22"/><stop offset="0.5000" stop-color="#429a5d"/><stop offset="1.0000" stop-color="#30917c"/></linearGradient>
<polygon points="600,205 645,209.4 641.3,216.8 660,234.2 653.8,241.6 641.3,239 616.5,229.2 591.7,216.8 579.3,206.9" fill="url(#glF)"/>
<linearGradient id="gneF" gradientUnits="userSpaceOnUse" x1="360" y1="0" x2="600" y2="0"><stop offset="0.0000" stop-color="#79b02d"/><stop offset="0.4000" stop-color="#65a839"/><stop offset="1.0000" stop-color="#5ba43f"/></linearGradient>
<polygon points="350,73.5 367.6,73.5 380,82 401,97.4 415,108 424.8,117.6 440,126 466.4,139 478,140 484,151 492.4,152.9 520,155.7 552,161 557,158.5 566.9,155.4 585,162 604,169.6 586,175 541,166 508,158 473,150.4 448,145.5 423.6,139 403,128.5 382,116.5 362,100 345,80" fill="url(#gneF)" filter="url(#blr)"/>
<polyline points="362,72 372,77 380,82 396,94 405,100 415,108 424.8,117.6 440,126 466.4,139 478,140 484,151 492.4,152.9 520,155.7 552,161" fill="none" stroke="#1379b3" stroke-width="5" stroke-linejoin="round" stroke-linecap="round"/>
<polyline points="552,161 557,158.5 566.9,155.4 585,162 604,169.6" fill="none" stroke="#1379b3" stroke-width="4" stroke-linejoin="round" stroke-linecap="round"/>
<polygon points="440,160 455,159 470,162 478,165 465,168 455,172 445,170" fill="#1379b3"/>
<polygon points="540,177 560,178 582,180 582,187 566,185 550,186 542,183" fill="#1379b3"/>
<g filter="url(#blr)"><ellipse cx="470" cy="180" rx="20" ry="6" transform="rotate(10 470 180)" fill="#97be22"/><ellipse cx="575" cy="187" rx="28" ry="6" transform="rotate(10 575 187)" fill="#83b428"/></g>
<polygon points="325,76.7 330.1,83.1 352.3,109.4 374.8,127.2 397.1,139.5 419.4,150.1 445.3,157.2 470.9,161.7 505.2,169.1 538.7,176.5 583.4,185.2 629.2,198.2 675,210.8 722.3,216.5 789.6,219.5 790.4,206.5 723.7,201.5 679,193.2 634.8,179 588.6,164.8 543.3,155.1 510.2,146.7 475.5,139.1 450.7,133.8 427.8,127.7 408.9,117.5 389.6,105.8 371.7,90.6 351.9,65.5 347,59.3" fill="#f6f403" filter="url(#blr2)"/>
<linearGradient id="gfb" gradientUnits="userSpaceOnUse" x1="330" y1="0" x2="790" y2="0"><stop offset="0.0000" stop-color="#ffc000"/><stop offset="0.2500" stop-color="#ff9600"/><stop offset="0.5000" stop-color="#ff5800"/><stop offset="0.8000" stop-color="#ff4c00"/><stop offset="1.0000" stop-color="#ff5800"/></linearGradient>
<polygon points="328.8,73.7 333.8,80.1 355.6,106.2 377.3,123.5 399.1,135.8 420.8,146.3 446.2,153.2 471.7,157.8 506,165.3 539.5,172.9 584.3,181.7 630.1,194.9 675.7,207.8 722.5,213.9 789.7,217.3 790.3,208.7 723.5,204.1 678.3,196.2 633.9,182.3 587.7,168.3 542.5,158.7 509.4,150.5 474.7,143 449.8,137.8 426.4,131.5 406.9,121.2 387.1,109.5 368.4,93.8 348.2,68.5 343.2,62.3" fill="url(#gfb)" filter="url(#blr2)"/>
</g>
<polygon points="301,73.5 312.8,73.5 322,83 335,95 348,106 356,112 345,106.5 330,98 317.6,90 308,81" fill="#e6ffe6"/>
<g fill="none" stroke-linecap="round" stroke-linejoin="round">
<polyline points="906,377 920,375 935,371 950,370 963,374.5 976,386 989,399 1001,409" stroke="#1379b3" stroke-width="9"/>
<line x1="760" y1="226.5" x2="768" y2="224" stroke="#200000" stroke-width="6"/>
<line x1="768" y1="224" x2="775" y2="225" stroke="#1a0000" stroke-width="6"/>
<line x1="775" y1="225" x2="790" y2="237" stroke="#200000" stroke-width="6"/>
<line x1="790" y1="237" x2="809" y2="253" stroke="#3e0000" stroke-width="6"/>
<polyline points="719.5,215.6 725.7,225.5" stroke="#157bb2" stroke-width="2.2"/>
<line x1="738" y1="217" x2="745" y2="227" stroke="#ffac00" stroke-width="3.2"/>
<line x1="745" y1="227" x2="752" y2="238" stroke="#fed400" stroke-width="3.2"/>
<line x1="752" y1="238" x2="754" y2="250" stroke="#f7f402" stroke-width="3.2"/>
<line x1="754" y1="250" x2="755" y2="258" stroke="#ecf009" stroke-width="3.2"/>
<polyline points="750.6,226.7 768,226.7" stroke="#157bb2" stroke-width="2.2"/>
<polyline points="851.7,235.6 861.8,244.8" stroke="#dfe710" stroke-width="2.2"/>
<polyline points="830,269 862,280" stroke="#dfe710" stroke-width="2.2"/>
<polyline points="806,255 815,264" stroke="#260000" stroke-width="5"/>
<polyline points="812,281 820,275" stroke="#fe2a00" stroke-width="3.5"/>
<polyline points="880,213 877.6,222 877.6,254 875.7,272.6 871,287 866.5,300.4" stroke="#ff9600" stroke-width="3.8"/>
<polyline points="839.6,214 843.3,225.3 848,243.8 848,265" stroke="#900000" stroke-width="5.5"/>
<polyline points="848,265 838,263.5 827.6,262.3" stroke="#cb0000" stroke-width="4"/>
<polyline points="845,226 856,232 866,236 866,220" stroke="#cb0000" stroke-width="3"/>
<polyline points="849,228 864.6,234.5" stroke="#cb0000" stroke-width="3"/>
<polyline points="850.7,239.2 862.8,245.6" stroke="#900000" stroke-width="3"/>
<polyline points="851.7,249.4 860,252 866,255" stroke="#f50000" stroke-width="4.5"/>
<polyline points="922,218.8 941.5,225.3" stroke="#fe2a00" stroke-width="2.6"/>
<polyline points="884,209 892.4,206.8 904.4,205.8 913.7,201.2 920.2,204 929.4,211.4 943.3,216 949.8,222.5 951.7,234.5 957.2,243.8" stroke="#ffc000" stroke-width="3"/>
<polyline points="912.8,203 912,212 915,219 922,223" stroke="#fbe900" stroke-width="2.4"/>
<polyline points="897,228 906,237 915.5,246.6 924.8,254.9 927.6,256.8 934,243.8 915.5,232.7 903,229" stroke="#ff9600" stroke-width="4"/>
<polyline points="888.7,228 888.7,244.8" stroke="#fbe900" stroke-width="2.8"/>
<polyline points="945,236 950,252" stroke="#fbe900" stroke-width="2.8"/>
<polyline points="886,255.5 901.7,260.5 915,261.4" stroke="#ff6300" stroke-width="8"/>
<line x1="965.5" y1="243.8" x2="983.6" y2="241.6" stroke="#fbe900" stroke-width="3.4"/>
<line x1="983.6" y1="241.6" x2="996.7" y2="246" stroke="#faf100" stroke-width="3.4"/>
<line x1="996.7" y1="246" x2="1004" y2="253.3" stroke="#f6f403" stroke-width="3.4"/>
<line x1="1004" y1="253.3" x2="1016.4" y2="253.3" stroke="#f2f205" stroke-width="3.4"/>
<line x1="1016.4" y1="253.3" x2="1027.3" y2="242.4" stroke="#f0f206" stroke-width="3.4"/>
<line x1="1027.3" y1="242.4" x2="1034.5" y2="242.4" stroke="#eff107" stroke-width="3.4"/>
<line x1="1034.5" y1="242.4" x2="1048" y2="246.5" stroke="#ebf00a" stroke-width="3.4"/>
<line x1="1048" y1="246.5" x2="1062.2" y2="251.8" stroke="#e3ea0e" stroke-width="3.4"/>
<polyline points="1032.4,246.7 1039.6,255.5" stroke="#e7ed0c" stroke-width="2.2"/>
<polyline points="1017,255.5 1028,265 1040.4,277.3" stroke="#e7ed0c" stroke-width="2.2"/>
<line x1="1005.5" y1="255.5" x2="1008" y2="265" stroke="#ff5200" stroke-width="5.5"/>
<line x1="1008" y1="265" x2="1012" y2="275" stroke="#ff8700" stroke-width="5.5"/>
<line x1="1012" y1="275" x2="1016.4" y2="284.5" stroke="#fbe900" stroke-width="5.5"/>
<polyline points="996.3,301.9 1000,308 1005.6,313.9 1012,316 1019.4,316.7" stroke="#ff6300" stroke-width="2.2"/>
<polyline points="953,261.3 958.2,256.9 970,264 983.6,273.6 987.3,280.2" stroke="#e7ed0c" stroke-width="2.8"/>
<polyline points="953,262 954.5,264.2 970,272 987.3,281" stroke="#e7ed0c" stroke-width="2.8"/>
<polyline points="877.6,250.4 886,255 894.3,258.7 905,261 917.4,261.5 930,261.5 945,261.5 953,261.3" stroke="#ff8300" stroke-width="5.5"/>
<polyline points="826.7,268.9 835,280 843.3,291 855,297 866.5,302.2 877.2,308.6 881,318 884.7,327.6 887.8,348.8 890,372" stroke="#ff9600" stroke-width="4.6"/>
<polyline points="855,354 848.7,373" stroke="#fe2a00" stroke-width="2.6"/>
<polyline points="863.5,360.4 859.3,376.3" stroke="#fe2a00" stroke-width="2.6"/>
<polyline points="872,367.8 868.8,379.5" stroke="#fe2a00" stroke-width="2.6"/>
<polyline points="880.4,371 876.2,381.6" stroke="#fe2a00" stroke-width="2.6"/>
<line x1="817" y1="217" x2="822" y2="228" stroke="#ff6f00" stroke-width="6"/>
<line x1="822" y1="228" x2="824.5" y2="245" stroke="#ff6900" stroke-width="6"/>
<line x1="824.5" y1="245" x2="823.5" y2="263" stroke="#ff5e00" stroke-width="6"/>
<line x1="823.5" y1="263" x2="823.5" y2="277" stroke="#ff5800" stroke-width="6"/>
<line x1="823.5" y1="277" x2="824.5" y2="292" stroke="#ff5200" stroke-width="6"/>
<line x1="824.5" y1="292" x2="828" y2="310" stroke="#ff5200" stroke-width="6"/>
<line x1="828" y1="310" x2="838" y2="325" stroke="#ff7900" stroke-width="6"/>
<line x1="838" y1="325" x2="846" y2="337" stroke="#ffc000" stroke-width="6"/>
<line x1="846" y1="337" x2="851" y2="346" stroke="#f7f402" stroke-width="6"/>
<line x1="851" y1="346" x2="859" y2="354" stroke="#ecf009" stroke-width="6"/>
<line x1="859" y1="354" x2="874" y2="364.7" stroke="#e3ea0e" stroke-width="6"/>
<line x1="874" y1="364.7" x2="890" y2="373" stroke="#dbe412" stroke-width="6"/>
<line x1="890" y1="373" x2="911" y2="380.5" stroke="#d0dd15" stroke-width="6"/>
<line x1="911" y1="380.5" x2="921.7" y2="380.5" stroke="#bed318" stroke-width="6"/>
<line x1="921.7" y1="380.5" x2="937.6" y2="376.3" stroke="#a5c61d" stroke-width="6"/>
<line x1="937.6" y1="376.3" x2="950.3" y2="375.2" stroke="#8db925" stroke-width="6"/>
<line x1="950.3" y1="375.2" x2="964" y2="381.6" stroke="#79b02d" stroke-width="6"/>
<line x1="964" y1="381.6" x2="977.8" y2="392.6" stroke="#65a839" stroke-width="6"/>
<line x1="977.8" y1="392.6" x2="987" y2="404.6" stroke="#51a045" stroke-width="6"/>
<line x1="987" y1="404.6" x2="1001" y2="413.9" stroke="#4c9e4d" stroke-width="6"/>
<line x1="1001" y1="413.9" x2="1014.8" y2="422.2" stroke="#479c55" stroke-width="6"/>
<line x1="1014.8" y1="422.2" x2="1024" y2="427.8" stroke="#429a5d" stroke-width="6"/>
<line x1="1024" y1="427.8" x2="1036" y2="437" stroke="#429a5d" stroke-width="6"/>
<line x1="880" y1="210.5" x2="895" y2="215" stroke="#ff8c00" stroke-width="6"/>
<line x1="895" y1="215" x2="917" y2="223.5" stroke="#ffa000" stroke-width="6"/>
<line x1="917" y1="223.5" x2="940" y2="230.5" stroke="#ffb400" stroke-width="6"/>
<line x1="940" y1="230.5" x2="954.5" y2="237.3" stroke="#ffcc00" stroke-width="6"/>
<line x1="954.5" y1="237.3" x2="972.7" y2="248.2" stroke="#fce100" stroke-width="6"/>
<line x1="972.7" y1="248.2" x2="987.3" y2="259.1" stroke="#faf500" stroke-width="6"/>
<line x1="987.3" y1="259.1" x2="996.7" y2="273.6" stroke="#f3f305" stroke-width="6"/>
<line x1="996.7" y1="273.6" x2="998" y2="284.5" stroke="#ecf009" stroke-width="6"/>
<line x1="998" y1="284.5" x2="996.5" y2="300" stroke="#e3ea0e" stroke-width="6"/>
<line x1="996.5" y1="300" x2="987" y2="318.5" stroke="#d7e114" stroke-width="6"/>
<line x1="987" y1="318.5" x2="984.3" y2="332.4" stroke="#bbd118" stroke-width="6"/>
<line x1="984.3" y1="332.4" x2="985.2" y2="346.3" stroke="#a0c31f" stroke-width="6"/>
<line x1="985.2" y1="346.3" x2="989.8" y2="357.4" stroke="#8db925" stroke-width="6"/>
<line x1="989.8" y1="357.4" x2="998.1" y2="366.7" stroke="#79b02d" stroke-width="6"/>
<line x1="998.1" y1="366.7" x2="1002.8" y2="378.7" stroke="#65a839" stroke-width="6"/>
<line x1="1002.8" y1="378.7" x2="1003.7" y2="397.2" stroke="#51a045" stroke-width="6"/>
<line x1="1003.7" y1="397.2" x2="1007.4" y2="411.1" stroke="#479c55" stroke-width="6"/>
<line x1="1007.4" y1="411.1" x2="1019.4" y2="422.2" stroke="#429a5d" stroke-width="6"/>
<line x1="1019.4" y1="422.2" x2="1031.5" y2="429.6" stroke="#429a5d" stroke-width="6"/>
<line x1="1031.5" y1="429.6" x2="1038" y2="437" stroke="#429a5d" stroke-width="6"/>
<polyline points="770,212.8 790,212.5 815,212 835,210 857,206.8 870,207.8 882,210.5" stroke="#ff8300" stroke-width="9"/>
<polygon points="820,286 827,285 831,300 837,315 842,327 834,328 825,320 821,305" fill="#ff4000"/>
<polygon points="751,255 758,252 766,262 762,265 752,268" fill="#e7ed0c"/>
<polygon points="858,254 866,251 871,255 868,266 864,273 859,271 862,262" fill="#ff9600"/>
<polygon points="768,219 776,217 781,222 779,229 772,229" fill="#ff9600"/>
<ellipse cx="980" cy="318" rx="4.5" ry="9" transform="rotate(25 980 318)" fill="#1379b3"/>
</g>
</g></g>
<path d="M1569.8 1500.4V1492.4M1569.8 1137.5V1145.5M1713.5 1500.4V1492.4M1713.5 1137.5V1145.5M1857.3 1500.4V1492.4M1857.3 1137.5V1145.5M2001.0 1500.4V1492.4M2001.0 1137.5V1145.5M2144.8 1500.4V1492.4M2144.8 1137.5V1145.5M2288.5 1500.4V1492.4M2288.5 1137.5V1145.5M1426.0 1218.1H1434.0M2316.5 1218.1H2308.5M1426.0 1298.7H1434.0M2316.5 1298.7H2308.5M1426.0 1379.2H1434.0M2316.5 1379.2H2308.5M1426.0 1459.8H1434.0M2316.5 1459.8H2308.5" stroke="#111" stroke-width="2.2" fill="none"/>
<rect x="1426.0" y="1137.5" width="890.5" height="362.9" fill="none" stroke="#1c1c1c" stroke-width="2.6"/>
<text x="1394.49" y="1537.80" font-size="39.74" textLength="63.13" lengthAdjust="spacingAndGlyphs" font-family='"DejaVu Sans", sans-serif'>30&#39;</text>
<text x="1538.52" y="1537.80" font-size="39.74" textLength="62.57" lengthAdjust="spacingAndGlyphs" font-family='"DejaVu Sans", sans-serif'>36&#39;</text>
<text x="1682.68" y="1538.40" font-size="40.54" textLength="62.78" lengthAdjust="spacingAndGlyphs" font-family='"DejaVu Sans", sans-serif'>42&#39;</text>
<text x="1826.43" y="1537.80" font-size="39.74" textLength="62.78" lengthAdjust="spacingAndGlyphs" font-family='"DejaVu Sans", sans-serif'>48&#39;</text>
<text x="1970.23" y="1537.80" font-size="40.27" textLength="61.67" lengthAdjust="spacingAndGlyphs" font-family='"DejaVu Sans", sans-serif'>54&#39;</text>
<text x="2103.85" y="1549.22" font-size="38.54" textLength="51.13" lengthAdjust="spacingAndGlyphs" font-family='"DejaVu Sans", sans-serif'>10</text>
<text x="2152.77" y="1529.27" font-size="28.70" textLength="20.07" lengthAdjust="spacingAndGlyphs" font-family='"DejaVu Sans", sans-serif'>o</text>
<text x="2172.86" y="1549.50" font-size="39.04" textLength="25.95" lengthAdjust="spacingAndGlyphs" font-family='"DejaVu Sans", sans-serif'>E</text>
<text x="2276.22" y="1537.86" font-size="35.76" textLength="36.45" lengthAdjust="spacingAndGlyphs" font-family='"DejaVu Sans", sans-serif'>6&#39;</text>
<text x="1351.79" y="1150.42" font-size="38.41" textLength="62.12" lengthAdjust="spacingAndGlyphs" font-family='"DejaVu Sans", sans-serif'>36&#39;</text>
<text x="1351.68" y="1231.01" font-size="38.41" textLength="62.23" lengthAdjust="spacingAndGlyphs" font-family='"DejaVu Sans", sans-serif'>34&#39;</text>
<text x="1351.68" y="1392.17" font-size="38.41" textLength="62.23" lengthAdjust="spacingAndGlyphs" font-family='"DejaVu Sans", sans-serif'>30&#39;</text>
<text x="1351.68" y="1472.76" font-size="38.41" textLength="62.23" lengthAdjust="spacingAndGlyphs" font-family='"DejaVu Sans", sans-serif'>28&#39;</text>
<text x="1314.03" y="1294.89" font-size="38.15" textLength="50.33" lengthAdjust="spacingAndGlyphs" font-family='"DejaVu Sans", sans-serif'>53</text>
<text x="1364.21" y="1275.89" font-size="32.00" textLength="19.94" lengthAdjust="spacingAndGlyphs" font-family='"DejaVu Sans", sans-serif'>o</text>
<text x="1383.16" y="1295.47" font-size="38.90" textLength="30.19" lengthAdjust="spacingAndGlyphs" font-family='"DejaVu Sans", sans-serif'>N</text>
<text x="1289.74" y="1341.47" font-size="40.00" textLength="124.03" lengthAdjust="spacingAndGlyphs" font-family='"DejaVu Sans", sans-serif'>32.00&#39;</text>
<linearGradient id="cbF" x1="0" y1="0" x2="0" y2="1"><stop offset="0.000" stop-color="#1076b4"/><stop offset="0.042" stop-color="#147ab3"/><stop offset="0.083" stop-color="#1a80a8"/><stop offset="0.125" stop-color="#228797"/><stop offset="0.167" stop-color="#329377"/><stop offset="0.208" stop-color="#469c56"/><stop offset="0.250" stop-color="#65a839"/><stop offset="0.292" stop-color="#8eba24"/><stop offset="0.333" stop-color="#b6ce19"/><stop offset="0.375" stop-color="#d4df14"/><stop offset="0.417" stop-color="#e6ec0d"/><stop offset="0.458" stop-color="#f3f305"/><stop offset="0.500" stop-color="#fbe900"/><stop offset="0.542" stop-color="#ffc700"/><stop offset="0.583" stop-color="#ffa500"/><stop offset="0.625" stop-color="#ff7e00"/><stop offset="0.667" stop-color="#ff5000"/><stop offset="0.708" stop-color="#fd2200"/><stop offset="0.750" stop-color="#f50000"/><stop offset="0.792" stop-color="#d40000"/><stop offset="0.833" stop-color="#a40000"/><stop offset="0.875" stop-color="#730000"/><stop offset="0.917" stop-color="#460000"/><stop offset="0.958" stop-color="#210000"/><stop offset="1.000" stop-color="#080000"/></linearGradient>
<rect x="2326.7" y="1137.5" width="22.3" height="363.5" fill="url(#cbF)" stroke="#111" stroke-width="2.4"/>
<path d="M2349.0 1215.8H2345.0M2349.0 1283.7H2345.0M2349.0 1351.6H2345.0M2349.0 1419.5H2345.0M2349.0 1487.3H2345.0" stroke="#111" stroke-width="2.2"/>
<text x="2358.01" y="1161.87" font-size="38.54" textLength="76.14" lengthAdjust="spacingAndGlyphs" font-family='"DejaVu Sans", sans-serif'>280</text>
<text x="2358.01" y="1229.75" font-size="38.54" textLength="76.14" lengthAdjust="spacingAndGlyphs" font-family='"DejaVu Sans", sans-serif'>250</text>
<text x="2358.01" y="1297.63" font-size="38.54" textLength="76.14" lengthAdjust="spacingAndGlyphs" font-family='"DejaVu Sans", sans-serif'>220</text>
<text x="2356.61" y="1365.51" font-size="38.54" textLength="76.14" lengthAdjust="spacingAndGlyphs" font-family='"DejaVu Sans", sans-serif'>190</text>
<text x="2356.61" y="1433.39" font-size="38.54" textLength="76.14" lengthAdjust="spacingAndGlyphs" font-family='"DejaVu Sans", sans-serif'>160</text>
<text x="2356.61" y="1501.27" font-size="38.54" textLength="76.14" lengthAdjust="spacingAndGlyphs" font-family='"DejaVu Sans", sans-serif'>130</text>
<text transform="translate(2479.30 1408.67) rotate(-90)" x="0" y="0" font-size="41.00" textLength="162.28" lengthAdjust="spacingAndGlyphs" font-family='"Liberation Sans", Arial, sans-serif'>mmol m</text><text transform="translate(2460.80 1251.38) rotate(-90)" x="0" y="0" font-size="34.40" textLength="35.24" lengthAdjust="spacingAndGlyphs" font-family='"Liberation Sans", Arial, sans-serif'>-3</text>
<g fill="#000"><text x="395.39" y="242.60" font-size="58.70" textLength="70.45" lengthAdjust="spacingAndGlyphs" font-family='"Liberation Sans", Arial, sans-serif'>D1</text>
<text x="640.94" y="368.60" font-size="58.70" textLength="78.65" lengthAdjust="spacingAndGlyphs" font-family='"Liberation Sans", Arial, sans-serif'>HH</text>
<text x="18.86" y="61.60" font-size="55.07" textLength="41.61" lengthAdjust="spacingAndGlyphs" font-family='"Liberation Sans", Arial, sans-serif' font-weight="bold">A</text>
<text x="1256.77" y="61.80" font-size="55.80" textLength="38.12" lengthAdjust="spacingAndGlyphs" font-family='"Liberation Sans", Arial, sans-serif' font-weight="bold">B</text>
<text x="20.87" y="623.24" font-size="55.92" textLength="36.72" lengthAdjust="spacingAndGlyphs" font-family='"Liberation Sans", Arial, sans-serif' font-weight="bold">C</text>
<text x="1256.72" y="622.80" font-size="55.51" textLength="37.58" lengthAdjust="spacingAndGlyphs" font-family='"Liberation Sans", Arial, sans-serif' font-weight="bold">D</text>
<text x="20.86" y="1142.40" font-size="55.51" textLength="34.24" lengthAdjust="spacingAndGlyphs" font-family='"Liberation Sans", Arial, sans-serif' font-weight="bold">E</text>
<text x="1256.84" y="1142.40" font-size="55.51" textLength="31.62" lengthAdjust="spacingAndGlyphs" font-family='"Liberation Sans", Arial, sans-serif' font-weight="bold">F</text>
<text x="512.72" y="57.55" font-size="55.10" textLength="214.59" lengthAdjust="spacingAndGlyphs" font-family='"Liberation Sans", Arial, sans-serif'>Diatoms</text>
<text x="1734.53" y="57.72" font-size="57.57" textLength="272.64" lengthAdjust="spacingAndGlyphs" font-family='"Liberation Sans", Arial, sans-serif'>Meso-zoo.</text>
<text x="571.48" y="618.22" font-size="57.61" textLength="114.35" lengthAdjust="spacingAndGlyphs" font-family='"Liberation Sans", Arial, sans-serif'>PON</text>
<text x="1666.33" y="615.11" font-size="54.22" textLength="482.43" lengthAdjust="spacingAndGlyphs" font-family='"Liberation Sans", Arial, sans-serif'>Sediment nitrogen</text>
<text x="513.40" y="1123.34" font-size="55.65" textLength="304.63" lengthAdjust="spacingAndGlyphs" font-family='"Liberation Sans", Arial, sans-serif'>Ammonium</text>
<text x="1706.19" y="1119.24" font-size="56.00" textLength="392.57" lengthAdjust="spacingAndGlyphs" font-family='"Liberation Sans", Arial, sans-serif'>Bottom oxygen</text></g>
</svg>
</body></html>
